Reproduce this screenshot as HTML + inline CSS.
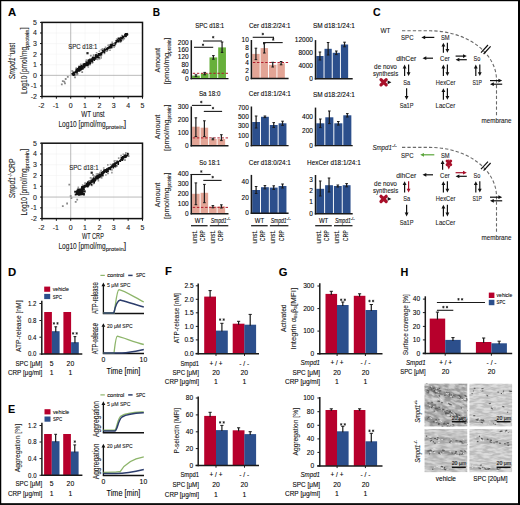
<!DOCTYPE html>
<html><head><meta charset="utf-8"><style>
html,body{margin:0;padding:0;background:#fff;width:520px;height:505px;overflow:hidden}
svg{display:block}
text{font-family:"Liberation Sans", sans-serif;stroke:#1e1e1e;stroke-width:0.1px}
</style></head><body>
<svg width="520" height="505" viewBox="0 0 520 505">
<rect x="0.00" y="0.00" width="520.00" height="505.00" fill="#fff"/>
<text x="8.00" y="15.90" font-size="11" fill="#000" font-weight="bold" textLength="8.20" lengthAdjust="spacingAndGlyphs">A</text>
<line x1="56.36" y1="22.40" x2="56.36" y2="96.50" stroke="#f0f0f0" stroke-width="0.5"/>
<line x1="42.00" y1="85.91" x2="142.50" y2="85.91" stroke="#f0f0f0" stroke-width="0.5"/>
<line x1="85.07" y1="22.40" x2="85.07" y2="96.50" stroke="#f0f0f0" stroke-width="0.5"/>
<line x1="42.00" y1="64.74" x2="142.50" y2="64.74" stroke="#f0f0f0" stroke-width="0.5"/>
<line x1="99.43" y1="22.40" x2="99.43" y2="96.50" stroke="#f0f0f0" stroke-width="0.5"/>
<line x1="42.00" y1="54.16" x2="142.50" y2="54.16" stroke="#f0f0f0" stroke-width="0.5"/>
<line x1="113.79" y1="22.40" x2="113.79" y2="96.50" stroke="#f0f0f0" stroke-width="0.5"/>
<line x1="42.00" y1="43.57" x2="142.50" y2="43.57" stroke="#f0f0f0" stroke-width="0.5"/>
<line x1="128.14" y1="22.40" x2="128.14" y2="96.50" stroke="#f0f0f0" stroke-width="0.5"/>
<line x1="42.00" y1="32.99" x2="142.50" y2="32.99" stroke="#f0f0f0" stroke-width="0.5"/>
<line x1="70.71" y1="22.40" x2="70.71" y2="96.50" stroke="#a8a8a8" stroke-width="0.8"/>
<line x1="42.00" y1="75.33" x2="142.50" y2="75.33" stroke="#a8a8a8" stroke-width="0.8"/>
<rect x="42.00" y="22.40" width="100.50" height="74.10" fill="none" stroke="#111" stroke-width="1.5"/>
<line x1="40.00" y1="96.50" x2="42.00" y2="96.50" stroke="#111" stroke-width="1.0"/>
<line x1="42.00" y1="96.50" x2="42.00" y2="98.70" stroke="#111" stroke-width="1.0"/>
<text x="37.00" y="99.00" font-size="7.0" text-anchor="end" fill="#222">-2</text>
<text x="41.40" y="108.30" font-size="7.0" text-anchor="middle" fill="#222">-2</text>
<line x1="40.00" y1="85.91" x2="42.00" y2="85.91" stroke="#111" stroke-width="1.0"/>
<line x1="56.36" y1="96.50" x2="56.36" y2="98.70" stroke="#111" stroke-width="1.0"/>
<text x="37.00" y="88.41" font-size="7.0" text-anchor="end" fill="#222">-1</text>
<text x="55.76" y="108.30" font-size="7.0" text-anchor="middle" fill="#222">-1</text>
<line x1="40.00" y1="75.33" x2="42.00" y2="75.33" stroke="#111" stroke-width="1.0"/>
<line x1="70.71" y1="96.50" x2="70.71" y2="98.70" stroke="#111" stroke-width="1.0"/>
<text x="37.00" y="77.83" font-size="7.0" text-anchor="end" fill="#222">0</text>
<text x="70.71" y="108.30" font-size="7.0" text-anchor="middle" fill="#222">0</text>
<line x1="40.00" y1="64.74" x2="42.00" y2="64.74" stroke="#111" stroke-width="1.0"/>
<line x1="85.07" y1="96.50" x2="85.07" y2="98.70" stroke="#111" stroke-width="1.0"/>
<text x="37.00" y="67.24" font-size="7.0" text-anchor="end" fill="#222">1</text>
<text x="85.07" y="108.30" font-size="7.0" text-anchor="middle" fill="#222">1</text>
<line x1="40.00" y1="54.16" x2="42.00" y2="54.16" stroke="#111" stroke-width="1.0"/>
<line x1="99.43" y1="96.50" x2="99.43" y2="98.70" stroke="#111" stroke-width="1.0"/>
<text x="37.00" y="56.66" font-size="7.0" text-anchor="end" fill="#222">2</text>
<text x="99.43" y="108.30" font-size="7.0" text-anchor="middle" fill="#222">2</text>
<line x1="40.00" y1="43.57" x2="42.00" y2="43.57" stroke="#111" stroke-width="1.0"/>
<line x1="113.79" y1="96.50" x2="113.79" y2="98.70" stroke="#111" stroke-width="1.0"/>
<text x="37.00" y="46.07" font-size="7.0" text-anchor="end" fill="#222">3</text>
<text x="113.79" y="108.30" font-size="7.0" text-anchor="middle" fill="#222">3</text>
<line x1="40.00" y1="32.99" x2="42.00" y2="32.99" stroke="#111" stroke-width="1.0"/>
<line x1="128.14" y1="96.50" x2="128.14" y2="98.70" stroke="#111" stroke-width="1.0"/>
<text x="37.00" y="35.49" font-size="7.0" text-anchor="end" fill="#222">4</text>
<text x="128.14" y="108.30" font-size="7.0" text-anchor="middle" fill="#222">4</text>
<line x1="40.00" y1="22.40" x2="42.00" y2="22.40" stroke="#111" stroke-width="1.0"/>
<line x1="142.50" y1="96.50" x2="142.50" y2="98.70" stroke="#111" stroke-width="1.0"/>
<text x="37.00" y="24.90" font-size="7.0" text-anchor="end" fill="#222">5</text>
<text x="142.50" y="108.30" font-size="7.0" text-anchor="middle" fill="#222">5</text>
<path d="M72.5,75.3L74.5,74.1L76.4,72.9L78.4,71.7L80.3,70.3L82.3,69.1L84.0,67.5L86.0,66.3L88.0,65.0L89.7,63.5L91.6,62.2L93.2,60.5L95.2,59.2L97.0,57.8L98.9,56.5L100.8,55.1L102.5,53.4L104.4,52.1L106.2,50.7L108.3,49.6L110.1,48.1L111.7,46.5L113.8,45.3L115.4,43.7L117.4,42.5L119.1,40.9L120.9,39.4L123.0,38.4L124.7,36.7L126.5,35.3L128.6,34.2L127.5,32.7L125.8,34.3L123.9,35.7L121.8,36.8L120.2,38.5L118.3,39.8L116.3,40.9L114.5,42.5L112.4,43.6L110.7,45.2L108.7,46.3L106.7,47.6L105.0,49.2L103.2,50.5L101.4,52.0L99.3,53.1L97.4,54.4L95.6,55.9L93.7,57.2L91.9,58.7L89.8,59.7L88.0,61.2L86.0,62.4L84.2,63.9L82.5,65.4L80.4,66.6L78.7,68.1L76.9,69.5L75.1,71.1L73.3,72.6L71.6,74.1Z" fill="#111"/>
<path d="M78.0,65.6h1.6v1.6h-1.6zM104.7,46.4h1.6v1.6h-1.6zM103.6,52.7h1.6v1.6h-1.6zM101.6,48.1h1.6v1.6h-1.6zM111.4,41.4h1.6v1.6h-1.6zM110.8,47.3h1.6v1.6h-1.6zM100.2,55.8h1.6v1.6h-1.6zM89.3,63.9h1.6v1.6h-1.6zM121.1,34.8h1.6v1.6h-1.6zM87.5,66.2h1.6v1.6h-1.6zM98.6,50.4h1.6v1.6h-1.6zM98.8,58.2h1.6v1.6h-1.6zM79.7,64.4h1.6v1.6h-1.6zM107.3,44.5h1.6v1.6h-1.6zM120.7,39.9h1.6v1.6h-1.6zM100.4,57.2h1.6v1.6h-1.6zM75.5,67.2h1.6v1.6h-1.6zM120.0,40.6h1.6v1.6h-1.6zM108.2,44.2h1.6v1.6h-1.6zM123.5,38.0h1.6v1.6h-1.6zM115.9,38.3h1.6v1.6h-1.6zM119.6,41.5h1.6v1.6h-1.6zM91.4,62.2h1.6v1.6h-1.6zM113.3,46.3h1.6v1.6h-1.6zM109.2,49.4h1.6v1.6h-1.6zM72.1,70.8h1.6v1.6h-1.6zM114.0,45.1h1.6v1.6h-1.6zM80.2,64.2h1.6v1.6h-1.6zM74.8,74.1h1.6v1.6h-1.6zM96.9,58.6h1.6v1.6h-1.6zM122.4,39.0h1.6v1.6h-1.6zM80.0,63.4h1.6v1.6h-1.6zM76.8,73.1h1.6v1.6h-1.6zM100.5,48.9h1.6v1.6h-1.6zM85.3,60.5h1.6v1.6h-1.6zM71.3,70.1h1.6v1.6h-1.6zM92.0,61.7h1.6v1.6h-1.6zM73.7,74.7h1.6v1.6h-1.6zM95.8,51.9h1.6v1.6h-1.6zM85.6,59.3h1.6v1.6h-1.6z" fill="#999"/>
<path d="M119.9,39.0h1.6v1.6h-1.6zM119.1,37.5h1.6v1.6h-1.6zM78.6,66.0h1.6v1.6h-1.6zM86.9,64.1h1.6v1.6h-1.6zM91.9,57.4h1.6v1.6h-1.6zM115.4,39.9h1.6v1.6h-1.6zM103.7,51.6h1.6v1.6h-1.6zM87.2,63.8h1.6v1.6h-1.6zM80.6,68.4h1.6v1.6h-1.6zM125.3,33.2h1.6v1.6h-1.6zM124.5,35.5h1.6v1.6h-1.6zM114.8,42.8h1.6v1.6h-1.6zM89.3,58.4h1.6v1.6h-1.6zM103.9,48.5h1.6v1.6h-1.6zM75.5,68.5h1.6v1.6h-1.6zM89.5,62.4h1.6v1.6h-1.6zM121.1,38.0h1.6v1.6h-1.6zM112.5,44.7h1.6v1.6h-1.6zM117.6,37.5h1.6v1.6h-1.6zM82.2,67.9h1.6v1.6h-1.6zM122.7,36.9h1.6v1.6h-1.6zM76.2,72.1h1.6v1.6h-1.6zM85.5,61.4h1.6v1.6h-1.6zM87.6,63.9h1.6v1.6h-1.6zM77.9,67.1h1.6v1.6h-1.6zM122.0,35.4h1.6v1.6h-1.6zM83.6,66.6h1.6v1.6h-1.6zM92.0,56.8h1.6v1.6h-1.6zM125.5,33.0h1.6v1.6h-1.6zM80.2,65.4h1.6v1.6h-1.6zM105.7,50.1h1.6v1.6h-1.6zM78.9,69.8h1.6v1.6h-1.6zM86.9,64.5h1.6v1.6h-1.6zM80.0,69.1h1.6v1.6h-1.6zM125.4,35.2h1.6v1.6h-1.6zM91.2,57.8h1.6v1.6h-1.6zM75.6,69.2h1.6v1.6h-1.6zM87.4,60.2h1.6v1.6h-1.6zM97.9,56.4h1.6v1.6h-1.6zM88.4,59.5h1.6v1.6h-1.6zM113.4,44.5h1.6v1.6h-1.6zM117.7,40.8h1.6v1.6h-1.6zM113.9,43.9h1.6v1.6h-1.6zM79.0,66.8h1.6v1.6h-1.6zM96.6,56.7h1.6v1.6h-1.6zM86.4,64.6h1.6v1.6h-1.6zM89.5,61.9h1.6v1.6h-1.6zM87.7,59.3h1.6v1.6h-1.6zM120.3,39.9h1.6v1.6h-1.6zM97.7,53.0h1.6v1.6h-1.6zM81.6,68.2h1.6v1.6h-1.6zM109.2,47.2h1.6v1.6h-1.6zM80.0,68.9h1.6v1.6h-1.6zM119.8,39.6h1.6v1.6h-1.6zM109.7,44.3h1.6v1.6h-1.6zM103.7,48.2h1.6v1.6h-1.6zM81.0,65.1h1.6v1.6h-1.6zM95.1,55.0h1.6v1.6h-1.6zM77.9,66.7h1.6v1.6h-1.6zM95.3,54.0h1.6v1.6h-1.6zM93.4,59.4h1.6v1.6h-1.6zM101.8,49.7h1.6v1.6h-1.6zM110.9,46.3h1.6v1.6h-1.6zM85.7,64.7h1.6v1.6h-1.6zM119.8,39.7h1.6v1.6h-1.6zM87.0,63.9h1.6v1.6h-1.6zM100.7,53.8h1.6v1.6h-1.6zM88.3,59.9h1.6v1.6h-1.6zM93.5,59.1h1.6v1.6h-1.6zM91.4,60.5h1.6v1.6h-1.6zM124.1,33.8h1.6v1.6h-1.6zM120.2,36.7h1.6v1.6h-1.6zM91.6,60.9h1.6v1.6h-1.6zM78.4,70.1h1.6v1.6h-1.6zM92.4,56.4h1.6v1.6h-1.6zM110.1,46.3h1.6v1.6h-1.6zM124.3,33.7h1.6v1.6h-1.6zM126.5,34.1h1.6v1.6h-1.6zM82.5,63.5h1.6v1.6h-1.6zM98.2,56.8h1.6v1.6h-1.6zM77.0,67.9h1.6v1.6h-1.6zM95.0,58.2h1.6v1.6h-1.6zM72.5,72.2h1.6v1.6h-1.6zM99.8,54.1h1.6v1.6h-1.6zM83.8,66.2h1.6v1.6h-1.6zM83.5,63.0h1.6v1.6h-1.6zM110.9,45.9h1.6v1.6h-1.6zM95.0,54.4h1.6v1.6h-1.6zM71.4,72.9h1.6v1.6h-1.6zM89.1,62.8h1.6v1.6h-1.6zM110.2,43.7h1.6v1.6h-1.6zM111.2,43.4h1.6v1.6h-1.6zM73.5,73.9h1.6v1.6h-1.6zM75.4,69.5h1.6v1.6h-1.6zM72.5,74.5h1.6v1.6h-1.6zM124.9,35.6h1.6v1.6h-1.6zM119.4,40.1h1.6v1.6h-1.6zM110.8,45.9h1.6v1.6h-1.6zM94.8,55.3h1.6v1.6h-1.6zM114.2,43.2h1.6v1.6h-1.6zM106.6,49.2h1.6v1.6h-1.6zM96.8,56.5h1.6v1.6h-1.6zM124.9,33.0h1.6v1.6h-1.6zM72.7,71.7h1.6v1.6h-1.6zM83.6,63.2h1.6v1.6h-1.6zM73.0,74.2h1.6v1.6h-1.6zM126.3,34.1h1.6v1.6h-1.6zM117.1,39.1h1.6v1.6h-1.6zM103.5,49.0h1.6v1.6h-1.6zM86.5,64.4h1.6v1.6h-1.6z" fill="#111"/>
<path d="M60.9,83.4h1.8v1.8h-1.8zM63.4,80.8h1.8v1.8h-1.8zM61.9,80.3h1.8v1.8h-1.8zM64.8,78.1h1.8v1.8h-1.8zM66.9,76.0h1.8v1.8h-1.8zM64.1,82.4h1.8v1.8h-1.8zM74.1,76.5h1.8v1.8h-1.8zM76.3,73.4h1.8v1.8h-1.8zM81.3,71.3h1.8v1.8h-1.8zM89.9,54.8h1.8v1.8h-1.8zM92.8,54.3h1.8v1.8h-1.8zM105.7,50.1h1.8v1.8h-1.8zM112.9,43.2h1.8v1.8h-1.8z" fill="#8a8a8a"/>
<rect x="86.4" y="52.1" width="2.2" height="2.2" fill="#222"/>
<text x="68.20" y="49.20" font-size="6.6" fill="#222" textLength="29.20" lengthAdjust="spacingAndGlyphs">SPC d18:1</text>
<g transform="translate(15.20,79.30) rotate(-90)">
<text x="0.00" y="0.00" font-size="8.6" fill="#222" font-style="italic" textLength="22.00" lengthAdjust="spacingAndGlyphs">Smpd1</text>
<text x="22.00" y="-3.40" font-size="4.6" fill="#222" textLength="3.40" lengthAdjust="spacingAndGlyphs">-/-</text>
<text x="25.40" y="0.00" font-size="8.6" fill="#222" textLength="11.00" lengthAdjust="spacingAndGlyphs"> unst</text>
</g>
<g transform="translate(26.90,93.95) rotate(-90)">
<text x="0.00" y="0.00" font-size="8.6" fill="#222" textLength="47.00" lengthAdjust="spacingAndGlyphs">Log10 [pmol/mg</text>
<text x="47.00" y="1.90" font-size="5.0" fill="#222" textLength="17.50" lengthAdjust="spacingAndGlyphs">protein</text>
<text x="64.50" y="0.00" font-size="8.6" fill="#222" textLength="2.40" lengthAdjust="spacingAndGlyphs">]</text>
</g>
<text x="92.90" y="117.10" font-size="8.6" text-anchor="middle" fill="#222" textLength="23.40" lengthAdjust="spacingAndGlyphs">WT unst</text>
<text x="58.40" y="127.30" font-size="8.6" fill="#222" textLength="47.40" lengthAdjust="spacingAndGlyphs">Log10 [pmol/mg</text>
<text x="105.80" y="129.20" font-size="5.0" fill="#222" textLength="18.00" lengthAdjust="spacingAndGlyphs">protein</text>
<text x="123.80" y="127.30" font-size="8.6" fill="#222" textLength="2.40" lengthAdjust="spacingAndGlyphs">]</text>
<line x1="56.36" y1="143.20" x2="56.36" y2="218.60" stroke="#f0f0f0" stroke-width="0.5"/>
<line x1="42.00" y1="207.83" x2="142.50" y2="207.83" stroke="#f0f0f0" stroke-width="0.5"/>
<line x1="85.07" y1="143.20" x2="85.07" y2="218.60" stroke="#f0f0f0" stroke-width="0.5"/>
<line x1="42.00" y1="186.29" x2="142.50" y2="186.29" stroke="#f0f0f0" stroke-width="0.5"/>
<line x1="99.43" y1="143.20" x2="99.43" y2="218.60" stroke="#f0f0f0" stroke-width="0.5"/>
<line x1="42.00" y1="175.51" x2="142.50" y2="175.51" stroke="#f0f0f0" stroke-width="0.5"/>
<line x1="113.79" y1="143.20" x2="113.79" y2="218.60" stroke="#f0f0f0" stroke-width="0.5"/>
<line x1="42.00" y1="164.74" x2="142.50" y2="164.74" stroke="#f0f0f0" stroke-width="0.5"/>
<line x1="128.14" y1="143.20" x2="128.14" y2="218.60" stroke="#f0f0f0" stroke-width="0.5"/>
<line x1="42.00" y1="153.97" x2="142.50" y2="153.97" stroke="#f0f0f0" stroke-width="0.5"/>
<line x1="70.71" y1="143.20" x2="70.71" y2="218.60" stroke="#a8a8a8" stroke-width="0.8"/>
<line x1="42.00" y1="197.06" x2="142.50" y2="197.06" stroke="#a8a8a8" stroke-width="0.8"/>
<rect x="42.00" y="143.20" width="100.50" height="75.40" fill="none" stroke="#111" stroke-width="1.5"/>
<line x1="40.00" y1="218.60" x2="42.00" y2="218.60" stroke="#111" stroke-width="1.0"/>
<line x1="42.00" y1="218.60" x2="42.00" y2="220.80" stroke="#111" stroke-width="1.0"/>
<text x="37.00" y="221.10" font-size="7.0" text-anchor="end" fill="#222">-2</text>
<text x="41.40" y="230.40" font-size="7.0" text-anchor="middle" fill="#222">-2</text>
<line x1="40.00" y1="207.83" x2="42.00" y2="207.83" stroke="#111" stroke-width="1.0"/>
<line x1="56.36" y1="218.60" x2="56.36" y2="220.80" stroke="#111" stroke-width="1.0"/>
<text x="37.00" y="210.33" font-size="7.0" text-anchor="end" fill="#222">-1</text>
<text x="55.76" y="230.40" font-size="7.0" text-anchor="middle" fill="#222">-1</text>
<line x1="40.00" y1="197.06" x2="42.00" y2="197.06" stroke="#111" stroke-width="1.0"/>
<line x1="70.71" y1="218.60" x2="70.71" y2="220.80" stroke="#111" stroke-width="1.0"/>
<text x="37.00" y="199.56" font-size="7.0" text-anchor="end" fill="#222">0</text>
<text x="70.71" y="230.40" font-size="7.0" text-anchor="middle" fill="#222">0</text>
<line x1="40.00" y1="186.29" x2="42.00" y2="186.29" stroke="#111" stroke-width="1.0"/>
<line x1="85.07" y1="218.60" x2="85.07" y2="220.80" stroke="#111" stroke-width="1.0"/>
<text x="37.00" y="188.79" font-size="7.0" text-anchor="end" fill="#222">1</text>
<text x="85.07" y="230.40" font-size="7.0" text-anchor="middle" fill="#222">1</text>
<line x1="40.00" y1="175.51" x2="42.00" y2="175.51" stroke="#111" stroke-width="1.0"/>
<line x1="99.43" y1="218.60" x2="99.43" y2="220.80" stroke="#111" stroke-width="1.0"/>
<text x="37.00" y="178.01" font-size="7.0" text-anchor="end" fill="#222">2</text>
<text x="99.43" y="230.40" font-size="7.0" text-anchor="middle" fill="#222">2</text>
<line x1="40.00" y1="164.74" x2="42.00" y2="164.74" stroke="#111" stroke-width="1.0"/>
<line x1="113.79" y1="218.60" x2="113.79" y2="220.80" stroke="#111" stroke-width="1.0"/>
<text x="37.00" y="167.24" font-size="7.0" text-anchor="end" fill="#222">3</text>
<text x="113.79" y="230.40" font-size="7.0" text-anchor="middle" fill="#222">3</text>
<line x1="40.00" y1="153.97" x2="42.00" y2="153.97" stroke="#111" stroke-width="1.0"/>
<line x1="128.14" y1="218.60" x2="128.14" y2="220.80" stroke="#111" stroke-width="1.0"/>
<text x="37.00" y="156.47" font-size="7.0" text-anchor="end" fill="#222">4</text>
<text x="128.14" y="230.40" font-size="7.0" text-anchor="middle" fill="#222">4</text>
<line x1="40.00" y1="143.20" x2="42.00" y2="143.20" stroke="#111" stroke-width="1.0"/>
<line x1="142.50" y1="218.60" x2="142.50" y2="220.80" stroke="#111" stroke-width="1.0"/>
<text x="37.00" y="145.70" font-size="7.0" text-anchor="end" fill="#222">5</text>
<text x="142.50" y="230.40" font-size="7.0" text-anchor="middle" fill="#222">5</text>
<path d="M77.8,193.0L79.5,191.8L81.3,190.5L83.3,189.6L84.8,188.1L86.8,187.1L88.7,186.1L90.2,184.4L92.0,183.3L93.7,182.0L95.3,180.4L97.1,179.2L98.9,178.1L100.5,176.6L102.3,175.4L103.8,173.9L105.5,172.6L107.2,171.2L109.0,170.1L110.9,168.9L112.5,167.5L114.2,166.2L115.8,164.7L117.6,163.6L119.1,162.0L120.9,160.7L122.7,159.6L124.4,158.3L126.0,156.8L127.6,155.4L129.4,154.1L128.7,153.2L127.0,154.5L125.2,155.7L123.3,156.8L121.6,158.1L120.0,159.5L118.3,160.9L116.3,161.9L114.7,163.3L112.9,164.4L111.2,165.7L109.3,166.9L107.7,168.3L106.1,169.7L104.3,170.9L102.6,172.2L100.7,173.3L99.0,174.7L97.2,175.8L95.5,177.2L93.9,178.6L92.0,179.7L90.3,180.9L88.7,182.4L86.7,183.3L85.1,184.9L83.7,186.5L81.8,187.5L80.3,189.2L78.6,190.5L76.9,191.9Z" fill="#111"/>
<path d="M105.1,174.2h1.6v1.6h-1.6zM80.3,191.3h1.6v1.6h-1.6zM100.3,169.8h1.6v1.6h-1.6zM124.1,159.5h1.6v1.6h-1.6zM107.0,164.1h1.6v1.6h-1.6zM125.0,152.4h1.6v1.6h-1.6zM124.3,159.4h1.6v1.6h-1.6zM125.1,152.0h1.6v1.6h-1.6zM114.2,159.9h1.6v1.6h-1.6zM109.7,163.7h1.6v1.6h-1.6zM76.7,188.8h1.6v1.6h-1.6zM114.7,166.3h1.6v1.6h-1.6zM89.7,177.1h1.6v1.6h-1.6zM91.1,184.6h1.6v1.6h-1.6zM125.0,152.4h1.6v1.6h-1.6zM120.3,154.8h1.6v1.6h-1.6zM111.2,169.2h1.6v1.6h-1.6zM122.5,153.5h1.6v1.6h-1.6zM117.9,157.3h1.6v1.6h-1.6zM92.9,182.7h1.6v1.6h-1.6zM113.5,160.3h1.6v1.6h-1.6zM91.6,183.5h1.6v1.6h-1.6zM111.1,171.8h1.6v1.6h-1.6zM116.3,165.1h1.6v1.6h-1.6zM91.2,177.6h1.6v1.6h-1.6zM99.1,171.7h1.6v1.6h-1.6zM91.2,183.8h1.6v1.6h-1.6zM111.0,169.0h1.6v1.6h-1.6zM97.6,179.8h1.6v1.6h-1.6zM102.9,167.2h1.6v1.6h-1.6zM81.8,184.3h1.6v1.6h-1.6zM91.5,183.8h1.6v1.6h-1.6zM93.2,175.3h1.6v1.6h-1.6zM96.9,172.9h1.6v1.6h-1.6zM77.5,186.6h1.6v1.6h-1.6zM93.9,175.6h1.6v1.6h-1.6zM124.1,158.4h1.6v1.6h-1.6zM95.7,173.2h1.6v1.6h-1.6zM128.0,155.3h1.6v1.6h-1.6zM100.9,177.1h1.6v1.6h-1.6z" fill="#999"/>
<path d="M86.6,185.7h1.6v1.6h-1.6zM111.4,164.4h1.6v1.6h-1.6zM120.6,156.9h1.6v1.6h-1.6zM81.6,186.1h1.6v1.6h-1.6zM96.1,175.7h1.6v1.6h-1.6zM114.5,162.2h1.6v1.6h-1.6zM121.7,156.4h1.6v1.6h-1.6zM81.1,186.0h1.6v1.6h-1.6zM101.5,174.5h1.6v1.6h-1.6zM78.8,189.0h1.6v1.6h-1.6zM107.6,167.2h1.6v1.6h-1.6zM124.3,154.8h1.6v1.6h-1.6zM78.2,189.5h1.6v1.6h-1.6zM103.7,169.2h1.6v1.6h-1.6zM82.3,188.8h1.6v1.6h-1.6zM106.0,168.3h1.6v1.6h-1.6zM112.9,163.2h1.6v1.6h-1.6zM122.1,158.5h1.6v1.6h-1.6zM98.9,176.6h1.6v1.6h-1.6zM115.1,165.0h1.6v1.6h-1.6zM117.5,162.1h1.6v1.6h-1.6zM87.1,185.2h1.6v1.6h-1.6zM90.8,179.4h1.6v1.6h-1.6zM100.8,171.8h1.6v1.6h-1.6zM78.3,192.0h1.6v1.6h-1.6zM87.0,182.3h1.6v1.6h-1.6zM95.7,175.2h1.6v1.6h-1.6zM102.0,174.3h1.6v1.6h-1.6zM83.3,188.3h1.6v1.6h-1.6zM87.1,181.3h1.6v1.6h-1.6zM124.4,154.9h1.6v1.6h-1.6zM80.9,187.0h1.6v1.6h-1.6zM76.1,190.3h1.6v1.6h-1.6zM89.2,180.4h1.6v1.6h-1.6zM126.8,154.9h1.6v1.6h-1.6zM88.2,180.8h1.6v1.6h-1.6zM114.6,164.2h1.6v1.6h-1.6zM98.8,176.4h1.6v1.6h-1.6zM104.7,169.1h1.6v1.6h-1.6zM106.6,170.6h1.6v1.6h-1.6zM92.1,178.6h1.6v1.6h-1.6zM116.3,160.6h1.6v1.6h-1.6zM82.8,185.5h1.6v1.6h-1.6zM100.0,175.6h1.6v1.6h-1.6zM80.5,190.0h1.6v1.6h-1.6zM78.6,188.9h1.6v1.6h-1.6zM105.9,171.5h1.6v1.6h-1.6zM102.0,171.2h1.6v1.6h-1.6zM121.9,158.8h1.6v1.6h-1.6zM81.8,186.4h1.6v1.6h-1.6zM112.5,166.8h1.6v1.6h-1.6zM112.3,163.4h1.6v1.6h-1.6zM94.7,179.5h1.6v1.6h-1.6zM114.1,165.5h1.6v1.6h-1.6zM120.7,157.5h1.6v1.6h-1.6zM78.8,191.0h1.6v1.6h-1.6zM95.1,176.3h1.6v1.6h-1.6zM113.9,162.6h1.6v1.6h-1.6zM79.8,190.6h1.6v1.6h-1.6zM98.5,173.4h1.6v1.6h-1.6zM93.4,181.8h1.6v1.6h-1.6zM106.1,170.7h1.6v1.6h-1.6zM126.9,152.7h1.6v1.6h-1.6zM86.0,182.7h1.6v1.6h-1.6zM84.3,184.4h1.6v1.6h-1.6zM79.0,188.7h1.6v1.6h-1.6zM93.0,177.3h1.6v1.6h-1.6zM93.1,177.7h1.6v1.6h-1.6zM87.9,184.7h1.6v1.6h-1.6zM77.8,192.3h1.6v1.6h-1.6zM124.4,154.3h1.6v1.6h-1.6zM97.0,177.8h1.6v1.6h-1.6zM100.1,175.5h1.6v1.6h-1.6zM79.4,190.7h1.6v1.6h-1.6zM81.4,186.4h1.6v1.6h-1.6zM117.4,163.4h1.6v1.6h-1.6zM124.8,156.5h1.6v1.6h-1.6zM90.5,179.7h1.6v1.6h-1.6zM97.2,178.0h1.6v1.6h-1.6zM119.5,160.3h1.6v1.6h-1.6zM96.3,175.4h1.6v1.6h-1.6zM107.4,170.2h1.6v1.6h-1.6zM96.8,175.0h1.6v1.6h-1.6zM80.9,189.6h1.6v1.6h-1.6zM102.4,171.0h1.6v1.6h-1.6zM121.8,156.4h1.6v1.6h-1.6zM93.2,181.3h1.6v1.6h-1.6zM125.3,156.0h1.6v1.6h-1.6zM86.9,186.0h1.6v1.6h-1.6zM95.7,175.6h1.6v1.6h-1.6zM121.2,159.1h1.6v1.6h-1.6zM101.9,174.9h1.6v1.6h-1.6zM113.0,165.6h1.6v1.6h-1.6zM87.3,185.2h1.6v1.6h-1.6zM77.5,189.7h1.6v1.6h-1.6zM102.1,174.4h1.6v1.6h-1.6zM109.5,168.6h1.6v1.6h-1.6zM121.4,159.3h1.6v1.6h-1.6zM94.1,180.2h1.6v1.6h-1.6zM103.1,169.4h1.6v1.6h-1.6zM103.7,169.7h1.6v1.6h-1.6zM90.5,183.8h1.6v1.6h-1.6zM122.6,156.2h1.6v1.6h-1.6zM97.3,174.5h1.6v1.6h-1.6zM83.7,185.0h1.6v1.6h-1.6zM106.9,170.6h1.6v1.6h-1.6zM123.5,155.0h1.6v1.6h-1.6zM124.9,154.3h1.6v1.6h-1.6zM98.9,176.3h1.6v1.6h-1.6zM122.0,156.1h1.6v1.6h-1.6zM78.6,190.8h2v2h-2zM81.2,189.6h2v2h-2zM78.0,190.6h2v2h-2zM78.5,193.2h2v2h-2zM82.9,193.0h2v2h-2zM74.7,193.6h2v2h-2zM79.7,193.5h2v2h-2zM79.4,189.5h2v2h-2zM78.3,191.7h2v2h-2zM76.9,192.1h2v2h-2zM83.4,190.2h2v2h-2zM83.7,190.4h2v2h-2zM78.8,191.9h2v2h-2zM78.6,191.7h2v2h-2zM80.4,192.9h2v2h-2zM79.4,193.5h2v2h-2zM77.5,192.4h2v2h-2zM79.8,191.3h2v2h-2zM80.3,190.3h2v2h-2zM78.1,190.8h2v2h-2zM78.5,188.4h2v2h-2zM79.3,193.1h2v2h-2zM77.4,190.1h2v2h-2zM78.7,189.4h2v2h-2zM77.5,193.6h2v2h-2zM78.9,189.9h2v2h-2zM76.3,190.4h2v2h-2zM77.8,191.6h2v2h-2zM75.9,193.0h2v2h-2zM78.5,191.0h2v2h-2zM76.1,191.8h2v2h-2zM77.6,191.4h2v2h-2zM76.8,189.7h2v2h-2zM74.2,190.7h2v2h-2zM78.4,191.4h2v2h-2zM78.0,193.8h2v2h-2zM82.9,193.4h2v2h-2zM77.6,189.1h2v2h-2zM78.7,191.7h2v2h-2zM80.2,190.2h2v2h-2zM76.5,192.2h2v2h-2zM78.8,190.1h2v2h-2zM78.8,190.7h2v2h-2zM81.5,191.2h2v2h-2zM77.7,193.1h2v2h-2zM79.9,190.6h2v2h-2zM77.3,188.4h2v2h-2zM80.0,191.3h2v2h-2zM79.3,189.6h2v2h-2zM78.9,191.0h2v2h-2zM76.8,192.4h2v2h-2zM79.4,190.0h2v2h-2zM79.9,191.8h2v2h-2zM80.5,188.8h2v2h-2zM77.9,191.3h2v2h-2zM79.2,188.6h2v2h-2zM78.1,193.2h2v2h-2zM78.5,192.0h2v2h-2zM78.5,190.7h2v2h-2zM82.2,193.2h2v2h-2z" fill="#111"/>
<path d="M61.9,205.3h1.8v1.8h-1.8zM66.2,202.6h1.8v1.8h-1.8zM70.5,197.2h1.8v1.8h-1.8zM69.8,195.1h1.8v1.8h-1.8zM68.4,183.8h1.8v1.8h-1.8zM74.8,201.0h1.8v1.8h-1.8zM76.3,198.8h1.8v1.8h-1.8zM88.5,180.0h1.8v1.8h-1.8zM92.1,174.1h1.8v1.8h-1.8zM107.1,172.5h1.8v1.8h-1.8zM84.2,182.2h1.8v1.8h-1.8z" fill="#8a8a8a"/>
<rect x="90.6" y="171.6" width="2.2" height="2.2" fill="#222"/>
<text x="69.30" y="170.40" font-size="6.6" fill="#222" textLength="29.20" lengthAdjust="spacingAndGlyphs">SPC d18:1</text>
<g transform="translate(15.20,198.20) rotate(-90)">
<text x="0.00" y="0.00" font-size="8.6" fill="#222" font-style="italic" textLength="21.20" lengthAdjust="spacingAndGlyphs">Smpd1</text>
<text x="21.20" y="-3.40" font-size="4.6" fill="#222" textLength="4.20" lengthAdjust="spacingAndGlyphs">-/-</text>
<text x="25.40" y="0.00" font-size="8.6" fill="#222" textLength="14.30" lengthAdjust="spacingAndGlyphs"> CRP</text>
</g>
<g transform="translate(26.90,215.40) rotate(-90)">
<text x="0.00" y="0.00" font-size="8.6" fill="#222" textLength="47.00" lengthAdjust="spacingAndGlyphs">Log10 [pmol/mg</text>
<text x="47.00" y="1.90" font-size="5.0" fill="#222" textLength="17.50" lengthAdjust="spacingAndGlyphs">protein</text>
<text x="64.50" y="0.00" font-size="8.6" fill="#222" textLength="2.40" lengthAdjust="spacingAndGlyphs">]</text>
</g>
<text x="92.90" y="239.20" font-size="8.6" text-anchor="middle" fill="#222" textLength="22.00" lengthAdjust="spacingAndGlyphs">WT CRP</text>
<text x="58.40" y="249.40" font-size="8.6" fill="#222" textLength="47.40" lengthAdjust="spacingAndGlyphs">Log10 [pmol/mg</text>
<text x="105.80" y="251.30" font-size="5.0" fill="#222" textLength="18.00" lengthAdjust="spacingAndGlyphs">protein</text>
<text x="123.80" y="249.40" font-size="8.6" fill="#222" textLength="2.40" lengthAdjust="spacingAndGlyphs">]</text>
<text x="152.70" y="16.00" font-size="11" fill="#000" font-weight="bold" textLength="7.30" lengthAdjust="spacingAndGlyphs">B</text>
<rect x="192.10" y="75.60" width="7.75" height="3.00" fill="#67b03b"/>
<rect x="200.80" y="73.50" width="7.75" height="5.10" fill="#67b03b"/>
<rect x="209.50" y="57.40" width="7.75" height="21.20" fill="#67b03b"/>
<rect x="218.20" y="47.40" width="7.75" height="31.20" fill="#67b03b"/>
<line x1="192.80" y1="73.30" x2="228.30" y2="73.30" stroke="#b01c2c" stroke-width="1.0" stroke-dasharray="2.4,1.7"/>
<line x1="195.98" y1="74.80" x2="195.98" y2="76.60" stroke="#1a1a1a" stroke-width="1.2"/>
<line x1="194.68" y1="74.80" x2="197.28" y2="74.80" stroke="#1a1a1a" stroke-width="1.0"/>
<line x1="194.68" y1="76.60" x2="197.28" y2="76.60" stroke="#1a1a1a" stroke-width="1.0"/>
<line x1="204.68" y1="72.40" x2="204.68" y2="74.80" stroke="#1a1a1a" stroke-width="1.2"/>
<line x1="203.38" y1="72.40" x2="205.98" y2="72.40" stroke="#1a1a1a" stroke-width="1.0"/>
<line x1="203.38" y1="74.80" x2="205.98" y2="74.80" stroke="#1a1a1a" stroke-width="1.0"/>
<line x1="213.38" y1="55.60" x2="213.38" y2="59.20" stroke="#1a1a1a" stroke-width="1.2"/>
<line x1="212.08" y1="55.60" x2="214.68" y2="55.60" stroke="#1a1a1a" stroke-width="1.0"/>
<line x1="212.08" y1="59.20" x2="214.68" y2="59.20" stroke="#1a1a1a" stroke-width="1.0"/>
<line x1="222.08" y1="42.00" x2="222.08" y2="52.40" stroke="#1a1a1a" stroke-width="1.2"/>
<line x1="220.78" y1="42.00" x2="223.38" y2="42.00" stroke="#1a1a1a" stroke-width="1.0"/>
<line x1="220.78" y1="52.40" x2="223.38" y2="52.40" stroke="#1a1a1a" stroke-width="1.0"/>
<line x1="191.30" y1="40.20" x2="191.30" y2="79.30" stroke="#1a1a1a" stroke-width="1.5"/>
<line x1="190.60" y1="78.60" x2="228.50" y2="78.60" stroke="#1a1a1a" stroke-width="1.4"/>
<text x="188.70" y="44.90" font-size="6.5" text-anchor="end">200</text>
<text x="188.70" y="52.10" font-size="6.5" text-anchor="end">160</text>
<text x="188.70" y="59.40" font-size="6.5" text-anchor="end">120</text>
<text x="188.70" y="66.60" font-size="6.5" text-anchor="end">80</text>
<text x="188.70" y="73.80" font-size="6.5" text-anchor="end">40</text>
<text x="188.70" y="80.90" font-size="6.5" text-anchor="end">0</text>
<text x="209.70" y="27.80" font-size="6.4" text-anchor="middle" textLength="29.00" lengthAdjust="spacingAndGlyphs">SPC d18:1</text>
<line x1="194.00" y1="47.30" x2="213.20" y2="47.30" stroke="#1a1a1a" stroke-width="1.1"/>
<path d="M203.00,43.55L203.00,46.05M204.08,44.17L201.92,45.42M204.08,45.42L201.92,44.17" stroke="#1a1a1a" stroke-width="0.75" fill="none"/>
<line x1="203.00" y1="41.00" x2="222.00" y2="41.00" stroke="#1a1a1a" stroke-width="1.1"/>
<path d="M213.20,35.95L213.20,38.45M214.28,36.58L212.12,37.83M214.28,37.83L212.12,36.58" stroke="#1a1a1a" stroke-width="0.75" fill="none"/>
<rect x="252.20" y="53.90" width="7.45" height="24.60" fill="#e3a596"/>
<rect x="260.60" y="48.10" width="7.45" height="30.40" fill="#e3a596"/>
<rect x="269.00" y="64.80" width="7.45" height="13.70" fill="#e3a596"/>
<rect x="277.40" y="63.30" width="7.45" height="15.20" fill="#e3a596"/>
<line x1="252.90" y1="62.50" x2="288.40" y2="62.50" stroke="#b01c2c" stroke-width="1.0" stroke-dasharray="2.4,1.7"/>
<line x1="255.93" y1="48.20" x2="255.93" y2="59.60" stroke="#1a1a1a" stroke-width="1.2"/>
<line x1="254.62" y1="48.20" x2="257.23" y2="48.20" stroke="#1a1a1a" stroke-width="1.0"/>
<line x1="254.62" y1="59.60" x2="257.23" y2="59.60" stroke="#1a1a1a" stroke-width="1.0"/>
<line x1="264.33" y1="43.00" x2="264.33" y2="53.00" stroke="#1a1a1a" stroke-width="1.2"/>
<line x1="263.03" y1="43.00" x2="265.63" y2="43.00" stroke="#1a1a1a" stroke-width="1.0"/>
<line x1="263.03" y1="53.00" x2="265.63" y2="53.00" stroke="#1a1a1a" stroke-width="1.0"/>
<line x1="272.73" y1="62.30" x2="272.73" y2="67.00" stroke="#1a1a1a" stroke-width="1.2"/>
<line x1="271.43" y1="62.30" x2="274.03" y2="62.30" stroke="#1a1a1a" stroke-width="1.0"/>
<line x1="271.43" y1="67.00" x2="274.03" y2="67.00" stroke="#1a1a1a" stroke-width="1.0"/>
<line x1="281.13" y1="61.50" x2="281.13" y2="64.80" stroke="#1a1a1a" stroke-width="1.2"/>
<line x1="279.83" y1="61.50" x2="282.43" y2="61.50" stroke="#1a1a1a" stroke-width="1.0"/>
<line x1="279.83" y1="64.80" x2="282.43" y2="64.80" stroke="#1a1a1a" stroke-width="1.0"/>
<line x1="251.40" y1="40.00" x2="251.40" y2="79.20" stroke="#1a1a1a" stroke-width="1.5"/>
<line x1="250.70" y1="78.50" x2="288.60" y2="78.50" stroke="#1a1a1a" stroke-width="1.4"/>
<text x="248.80" y="42.10" font-size="6.5" text-anchor="end">10</text>
<text x="248.80" y="49.90" font-size="6.5" text-anchor="end">8</text>
<text x="248.80" y="57.60" font-size="6.5" text-anchor="end">6</text>
<text x="248.80" y="65.20" font-size="6.5" text-anchor="end">4</text>
<text x="248.80" y="72.90" font-size="6.5" text-anchor="end">2</text>
<text x="248.80" y="80.60" font-size="6.5" text-anchor="end">0</text>
<text x="269.80" y="27.60" font-size="6.4" text-anchor="middle" textLength="41.50" lengthAdjust="spacingAndGlyphs">Cer d18:2/24:1</text>
<line x1="252.70" y1="37.30" x2="273.50" y2="37.30" stroke="#1a1a1a" stroke-width="1.1"/>
<line x1="273.50" y1="36.80" x2="273.50" y2="39.10" stroke="#1a1a1a" stroke-width="1.0"/>
<path d="M262.80,32.75L262.80,35.25M263.88,33.38L261.72,34.62M263.88,34.62L261.72,33.38" stroke="#1a1a1a" stroke-width="0.75" fill="none"/>
<line x1="263.60" y1="42.60" x2="282.70" y2="42.60" stroke="#1a1a1a" stroke-width="1.1"/>
<line x1="263.60" y1="42.10" x2="263.60" y2="44.40" stroke="#1a1a1a" stroke-width="1.0"/>
<path d="M273.20,38.25L273.20,40.75M274.28,38.88L272.12,40.12M274.28,40.12L272.12,38.88" stroke="#1a1a1a" stroke-width="0.75" fill="none"/>
<rect x="316.30" y="56.00" width="7.25" height="22.80" fill="#2c4f8c"/>
<rect x="324.50" y="48.80" width="7.25" height="30.00" fill="#2c4f8c"/>
<rect x="332.70" y="52.80" width="7.25" height="26.00" fill="#2c4f8c"/>
<rect x="340.90" y="44.50" width="7.25" height="34.30" fill="#2c4f8c"/>
<line x1="319.93" y1="52.00" x2="319.93" y2="60.00" stroke="#1a1a1a" stroke-width="1.2"/>
<line x1="318.62" y1="52.00" x2="321.23" y2="52.00" stroke="#1a1a1a" stroke-width="1.0"/>
<line x1="318.62" y1="60.00" x2="321.23" y2="60.00" stroke="#1a1a1a" stroke-width="1.0"/>
<line x1="328.12" y1="42.50" x2="328.12" y2="55.00" stroke="#1a1a1a" stroke-width="1.2"/>
<line x1="326.82" y1="42.50" x2="329.43" y2="42.50" stroke="#1a1a1a" stroke-width="1.0"/>
<line x1="326.82" y1="55.00" x2="329.43" y2="55.00" stroke="#1a1a1a" stroke-width="1.0"/>
<line x1="336.32" y1="51.00" x2="336.32" y2="54.60" stroke="#1a1a1a" stroke-width="1.2"/>
<line x1="335.02" y1="51.00" x2="337.62" y2="51.00" stroke="#1a1a1a" stroke-width="1.0"/>
<line x1="335.02" y1="54.60" x2="337.62" y2="54.60" stroke="#1a1a1a" stroke-width="1.0"/>
<line x1="344.53" y1="42.20" x2="344.53" y2="46.80" stroke="#1a1a1a" stroke-width="1.2"/>
<line x1="343.23" y1="42.20" x2="345.83" y2="42.20" stroke="#1a1a1a" stroke-width="1.0"/>
<line x1="343.23" y1="46.80" x2="345.83" y2="46.80" stroke="#1a1a1a" stroke-width="1.0"/>
<line x1="315.50" y1="40.10" x2="315.50" y2="79.50" stroke="#1a1a1a" stroke-width="1.5"/>
<line x1="314.80" y1="78.80" x2="352.70" y2="78.80" stroke="#1a1a1a" stroke-width="1.4"/>
<text x="312.90" y="42.00" font-size="6.5" text-anchor="end">12000</text>
<text x="312.90" y="54.90" font-size="6.5" text-anchor="end">8000</text>
<text x="312.90" y="67.80" font-size="6.5" text-anchor="end">4000</text>
<text x="312.90" y="80.70" font-size="6.5" text-anchor="end">0</text>
<text x="333.90" y="27.70" font-size="6.4" text-anchor="middle" textLength="42.00" lengthAdjust="spacingAndGlyphs">SM d18:1/24:1</text>
<rect x="192.10" y="126.70" width="7.55" height="19.10" fill="#e3a596"/>
<rect x="200.60" y="127.70" width="7.55" height="18.10" fill="#e3a596"/>
<rect x="209.10" y="139.00" width="7.55" height="6.80" fill="#e3a596"/>
<rect x="217.60" y="139.00" width="7.55" height="6.80" fill="#e3a596"/>
<line x1="192.80" y1="137.90" x2="228.30" y2="137.90" stroke="#b01c2c" stroke-width="1.0" stroke-dasharray="2.4,1.7"/>
<line x1="195.88" y1="117.80" x2="195.88" y2="136.60" stroke="#1a1a1a" stroke-width="1.2"/>
<line x1="194.58" y1="117.80" x2="197.18" y2="117.80" stroke="#1a1a1a" stroke-width="1.0"/>
<line x1="194.58" y1="136.60" x2="197.18" y2="136.60" stroke="#1a1a1a" stroke-width="1.0"/>
<line x1="204.38" y1="120.80" x2="204.38" y2="136.60" stroke="#1a1a1a" stroke-width="1.2"/>
<line x1="203.08" y1="120.80" x2="205.68" y2="120.80" stroke="#1a1a1a" stroke-width="1.0"/>
<line x1="203.08" y1="136.60" x2="205.68" y2="136.60" stroke="#1a1a1a" stroke-width="1.0"/>
<line x1="212.88" y1="138.20" x2="212.88" y2="139.80" stroke="#1a1a1a" stroke-width="1.2"/>
<line x1="211.58" y1="138.20" x2="214.18" y2="138.20" stroke="#1a1a1a" stroke-width="1.0"/>
<line x1="211.58" y1="139.80" x2="214.18" y2="139.80" stroke="#1a1a1a" stroke-width="1.0"/>
<line x1="221.38" y1="134.70" x2="221.38" y2="140.60" stroke="#1a1a1a" stroke-width="1.2"/>
<line x1="220.08" y1="134.70" x2="222.68" y2="134.70" stroke="#1a1a1a" stroke-width="1.0"/>
<line x1="220.08" y1="140.60" x2="222.68" y2="140.60" stroke="#1a1a1a" stroke-width="1.0"/>
<line x1="191.30" y1="106.50" x2="191.30" y2="146.50" stroke="#1a1a1a" stroke-width="1.5"/>
<line x1="190.60" y1="145.80" x2="228.50" y2="145.80" stroke="#1a1a1a" stroke-width="1.4"/>
<text x="188.70" y="108.90" font-size="6.5" text-anchor="end">300</text>
<text x="188.70" y="122.00" font-size="6.5" text-anchor="end">200</text>
<text x="188.70" y="135.00" font-size="6.5" text-anchor="end">100</text>
<text x="188.70" y="148.10" font-size="6.5" text-anchor="end">0</text>
<text x="209.70" y="96.10" font-size="6.4" text-anchor="middle" textLength="21.60" lengthAdjust="spacingAndGlyphs">Sa 18:0</text>
<line x1="191.90" y1="105.40" x2="211.20" y2="105.40" stroke="#1a1a1a" stroke-width="1.1"/>
<path d="M201.30,100.75L201.30,103.25M202.38,101.38L200.22,102.62M202.38,102.62L200.22,101.38" stroke="#1a1a1a" stroke-width="0.75" fill="none"/>
<line x1="203.80" y1="111.40" x2="222.10" y2="111.40" stroke="#1a1a1a" stroke-width="1.1"/>
<path d="M213.00,106.85L213.00,109.35M214.08,107.47L211.92,108.72M214.08,108.72L211.92,107.47" stroke="#1a1a1a" stroke-width="0.75" fill="none"/>
<rect x="252.20" y="122.00" width="7.85" height="23.60" fill="#2c4f8c"/>
<rect x="261.00" y="116.80" width="7.85" height="28.80" fill="#2c4f8c"/>
<rect x="269.80" y="125.00" width="7.85" height="20.60" fill="#2c4f8c"/>
<rect x="278.60" y="123.30" width="7.85" height="22.30" fill="#2c4f8c"/>
<line x1="256.12" y1="116.00" x2="256.12" y2="128.00" stroke="#1a1a1a" stroke-width="1.2"/>
<line x1="254.82" y1="116.00" x2="257.43" y2="116.00" stroke="#1a1a1a" stroke-width="1.0"/>
<line x1="254.82" y1="128.00" x2="257.43" y2="128.00" stroke="#1a1a1a" stroke-width="1.0"/>
<line x1="264.93" y1="116.00" x2="264.93" y2="117.60" stroke="#1a1a1a" stroke-width="1.2"/>
<line x1="263.62" y1="116.00" x2="266.23" y2="116.00" stroke="#1a1a1a" stroke-width="1.0"/>
<line x1="263.62" y1="117.60" x2="266.23" y2="117.60" stroke="#1a1a1a" stroke-width="1.0"/>
<line x1="273.73" y1="122.60" x2="273.73" y2="127.40" stroke="#1a1a1a" stroke-width="1.2"/>
<line x1="272.43" y1="122.60" x2="275.03" y2="122.60" stroke="#1a1a1a" stroke-width="1.0"/>
<line x1="272.43" y1="127.40" x2="275.03" y2="127.40" stroke="#1a1a1a" stroke-width="1.0"/>
<line x1="282.53" y1="121.20" x2="282.53" y2="125.40" stroke="#1a1a1a" stroke-width="1.2"/>
<line x1="281.23" y1="121.20" x2="283.83" y2="121.20" stroke="#1a1a1a" stroke-width="1.0"/>
<line x1="281.23" y1="125.40" x2="283.83" y2="125.40" stroke="#1a1a1a" stroke-width="1.0"/>
<line x1="251.40" y1="106.50" x2="251.40" y2="146.30" stroke="#1a1a1a" stroke-width="1.5"/>
<line x1="250.70" y1="145.60" x2="288.60" y2="145.60" stroke="#1a1a1a" stroke-width="1.4"/>
<text x="248.80" y="109.50" font-size="6.5" text-anchor="end">700</text>
<text x="248.80" y="118.80" font-size="6.5" text-anchor="end">500</text>
<text x="248.80" y="128.10" font-size="6.5" text-anchor="end">300</text>
<text x="248.80" y="137.50" font-size="6.5" text-anchor="end">100</text>
<text x="248.80" y="147.20" font-size="6.5" text-anchor="end">0</text>
<text x="269.80" y="96.10" font-size="6.4" text-anchor="middle" textLength="42.00" lengthAdjust="spacingAndGlyphs">Cer d18:1/24:1</text>
<rect x="316.30" y="123.30" width="8.05" height="22.30" fill="#2c4f8c"/>
<rect x="325.30" y="117.30" width="8.05" height="28.30" fill="#2c4f8c"/>
<rect x="334.30" y="123.30" width="8.05" height="22.30" fill="#2c4f8c"/>
<rect x="343.30" y="115.30" width="8.05" height="30.30" fill="#2c4f8c"/>
<line x1="320.32" y1="119.00" x2="320.32" y2="127.60" stroke="#1a1a1a" stroke-width="1.2"/>
<line x1="319.02" y1="119.00" x2="321.62" y2="119.00" stroke="#1a1a1a" stroke-width="1.0"/>
<line x1="319.02" y1="127.60" x2="321.62" y2="127.60" stroke="#1a1a1a" stroke-width="1.0"/>
<line x1="329.32" y1="111.00" x2="329.32" y2="123.60" stroke="#1a1a1a" stroke-width="1.2"/>
<line x1="328.02" y1="111.00" x2="330.62" y2="111.00" stroke="#1a1a1a" stroke-width="1.0"/>
<line x1="328.02" y1="123.60" x2="330.62" y2="123.60" stroke="#1a1a1a" stroke-width="1.0"/>
<line x1="338.32" y1="121.50" x2="338.32" y2="125.10" stroke="#1a1a1a" stroke-width="1.2"/>
<line x1="337.02" y1="121.50" x2="339.62" y2="121.50" stroke="#1a1a1a" stroke-width="1.0"/>
<line x1="337.02" y1="125.10" x2="339.62" y2="125.10" stroke="#1a1a1a" stroke-width="1.0"/>
<line x1="347.32" y1="113.60" x2="347.32" y2="117.00" stroke="#1a1a1a" stroke-width="1.2"/>
<line x1="346.02" y1="113.60" x2="348.62" y2="113.60" stroke="#1a1a1a" stroke-width="1.0"/>
<line x1="346.02" y1="117.00" x2="348.62" y2="117.00" stroke="#1a1a1a" stroke-width="1.0"/>
<line x1="315.50" y1="107.60" x2="315.50" y2="146.30" stroke="#1a1a1a" stroke-width="1.5"/>
<line x1="314.80" y1="145.60" x2="352.70" y2="145.60" stroke="#1a1a1a" stroke-width="1.4"/>
<text x="312.90" y="118.80" font-size="6.5" text-anchor="end">400</text>
<text x="312.90" y="133.30" font-size="6.5" text-anchor="end">200</text>
<text x="312.90" y="147.70" font-size="6.5" text-anchor="end">0</text>
<text x="333.90" y="97.20" font-size="6.4" text-anchor="middle" textLength="42.00" lengthAdjust="spacingAndGlyphs">SM d18:2/24:1</text>
<rect x="192.10" y="193.80" width="7.55" height="19.90" fill="#e3a596"/>
<rect x="200.60" y="192.80" width="7.55" height="20.90" fill="#e3a596"/>
<rect x="209.10" y="206.60" width="7.55" height="7.10" fill="#e3a596"/>
<rect x="217.60" y="206.40" width="7.55" height="7.30" fill="#e3a596"/>
<line x1="192.80" y1="207.40" x2="228.30" y2="207.40" stroke="#b01c2c" stroke-width="1.0" stroke-dasharray="2.4,1.7"/>
<line x1="195.88" y1="182.90" x2="195.88" y2="204.70" stroke="#1a1a1a" stroke-width="1.2"/>
<line x1="194.58" y1="182.90" x2="197.18" y2="182.90" stroke="#1a1a1a" stroke-width="1.0"/>
<line x1="194.58" y1="204.70" x2="197.18" y2="204.70" stroke="#1a1a1a" stroke-width="1.0"/>
<line x1="204.38" y1="184.40" x2="204.38" y2="202.70" stroke="#1a1a1a" stroke-width="1.2"/>
<line x1="203.08" y1="184.40" x2="205.68" y2="184.40" stroke="#1a1a1a" stroke-width="1.0"/>
<line x1="203.08" y1="202.70" x2="205.68" y2="202.70" stroke="#1a1a1a" stroke-width="1.0"/>
<line x1="212.88" y1="205.60" x2="212.88" y2="207.80" stroke="#1a1a1a" stroke-width="1.2"/>
<line x1="211.58" y1="205.60" x2="214.18" y2="205.60" stroke="#1a1a1a" stroke-width="1.0"/>
<line x1="211.58" y1="207.80" x2="214.18" y2="207.80" stroke="#1a1a1a" stroke-width="1.0"/>
<line x1="221.38" y1="204.80" x2="221.38" y2="208.00" stroke="#1a1a1a" stroke-width="1.2"/>
<line x1="220.08" y1="204.80" x2="222.68" y2="204.80" stroke="#1a1a1a" stroke-width="1.0"/>
<line x1="220.08" y1="208.00" x2="222.68" y2="208.00" stroke="#1a1a1a" stroke-width="1.0"/>
<line x1="191.30" y1="174.60" x2="191.30" y2="214.40" stroke="#1a1a1a" stroke-width="1.5"/>
<line x1="190.60" y1="213.70" x2="228.50" y2="213.70" stroke="#1a1a1a" stroke-width="1.4"/>
<text x="188.70" y="176.10" font-size="6.5" text-anchor="end">400</text>
<text x="188.70" y="186.00" font-size="6.5" text-anchor="end">300</text>
<text x="188.70" y="196.00" font-size="6.5" text-anchor="end">200</text>
<text x="188.70" y="205.90" font-size="6.5" text-anchor="end">100</text>
<text x="188.70" y="215.80" font-size="6.5" text-anchor="end">0</text>
<text x="209.70" y="165.00" font-size="6.4" text-anchor="middle" textLength="20.80" lengthAdjust="spacingAndGlyphs">So 18:1</text>
<line x1="190.40" y1="174.50" x2="210.70" y2="174.50" stroke="#1a1a1a" stroke-width="1.1"/>
<path d="M201.30,170.25L201.30,172.75M202.38,170.88L200.22,172.12M202.38,172.12L200.22,170.88" stroke="#1a1a1a" stroke-width="0.75" fill="none"/>
<line x1="203.30" y1="180.40" x2="221.60" y2="180.40" stroke="#1a1a1a" stroke-width="1.1"/>
<path d="M212.70,175.85L212.70,178.35M213.78,176.47L211.62,177.72M213.78,177.72L211.62,176.47" stroke="#1a1a1a" stroke-width="0.75" fill="none"/>
<rect x="252.20" y="190.00" width="7.85" height="23.20" fill="#2c4f8c"/>
<rect x="261.00" y="187.20" width="7.85" height="26.00" fill="#2c4f8c"/>
<rect x="269.80" y="187.60" width="7.85" height="25.60" fill="#2c4f8c"/>
<rect x="278.60" y="186.00" width="7.85" height="27.20" fill="#2c4f8c"/>
<line x1="256.12" y1="186.50" x2="256.12" y2="193.50" stroke="#1a1a1a" stroke-width="1.2"/>
<line x1="254.82" y1="186.50" x2="257.43" y2="186.50" stroke="#1a1a1a" stroke-width="1.0"/>
<line x1="254.82" y1="193.50" x2="257.43" y2="193.50" stroke="#1a1a1a" stroke-width="1.0"/>
<line x1="264.93" y1="185.60" x2="264.93" y2="188.80" stroke="#1a1a1a" stroke-width="1.2"/>
<line x1="263.62" y1="185.60" x2="266.23" y2="185.60" stroke="#1a1a1a" stroke-width="1.0"/>
<line x1="263.62" y1="188.80" x2="266.23" y2="188.80" stroke="#1a1a1a" stroke-width="1.0"/>
<line x1="273.73" y1="185.80" x2="273.73" y2="189.40" stroke="#1a1a1a" stroke-width="1.2"/>
<line x1="272.43" y1="185.80" x2="275.03" y2="185.80" stroke="#1a1a1a" stroke-width="1.0"/>
<line x1="272.43" y1="189.40" x2="275.03" y2="189.40" stroke="#1a1a1a" stroke-width="1.0"/>
<line x1="282.53" y1="184.00" x2="282.53" y2="188.00" stroke="#1a1a1a" stroke-width="1.2"/>
<line x1="281.23" y1="184.00" x2="283.83" y2="184.00" stroke="#1a1a1a" stroke-width="1.0"/>
<line x1="281.23" y1="188.00" x2="283.83" y2="188.00" stroke="#1a1a1a" stroke-width="1.0"/>
<line x1="251.40" y1="174.90" x2="251.40" y2="213.90" stroke="#1a1a1a" stroke-width="1.5"/>
<line x1="250.70" y1="213.20" x2="288.60" y2="213.20" stroke="#1a1a1a" stroke-width="1.4"/>
<text x="248.80" y="183.90" font-size="6.5" text-anchor="end">40</text>
<text x="248.80" y="199.60" font-size="6.5" text-anchor="end">20</text>
<text x="248.80" y="215.20" font-size="6.5" text-anchor="end">0</text>
<text x="269.80" y="165.30" font-size="6.4" text-anchor="middle" textLength="42.00" lengthAdjust="spacingAndGlyphs">Cer d18:0/24:1</text>
<rect x="316.30" y="188.80" width="7.85" height="25.00" fill="#2c4f8c"/>
<rect x="325.10" y="185.20" width="7.85" height="28.60" fill="#2c4f8c"/>
<rect x="333.90" y="186.00" width="7.85" height="27.80" fill="#2c4f8c"/>
<rect x="342.70" y="185.20" width="7.85" height="28.60" fill="#2c4f8c"/>
<line x1="320.23" y1="181.00" x2="320.23" y2="196.00" stroke="#1a1a1a" stroke-width="1.2"/>
<line x1="318.93" y1="181.00" x2="321.53" y2="181.00" stroke="#1a1a1a" stroke-width="1.0"/>
<line x1="318.93" y1="196.00" x2="321.53" y2="196.00" stroke="#1a1a1a" stroke-width="1.0"/>
<line x1="329.03" y1="178.00" x2="329.03" y2="192.00" stroke="#1a1a1a" stroke-width="1.2"/>
<line x1="327.73" y1="178.00" x2="330.33" y2="178.00" stroke="#1a1a1a" stroke-width="1.0"/>
<line x1="327.73" y1="192.00" x2="330.33" y2="192.00" stroke="#1a1a1a" stroke-width="1.0"/>
<line x1="337.83" y1="185.00" x2="337.83" y2="187.00" stroke="#1a1a1a" stroke-width="1.2"/>
<line x1="336.53" y1="185.00" x2="339.13" y2="185.00" stroke="#1a1a1a" stroke-width="1.0"/>
<line x1="336.53" y1="187.00" x2="339.13" y2="187.00" stroke="#1a1a1a" stroke-width="1.0"/>
<line x1="346.62" y1="183.60" x2="346.62" y2="186.80" stroke="#1a1a1a" stroke-width="1.2"/>
<line x1="345.32" y1="183.60" x2="347.93" y2="183.60" stroke="#1a1a1a" stroke-width="1.0"/>
<line x1="345.32" y1="186.80" x2="347.93" y2="186.80" stroke="#1a1a1a" stroke-width="1.0"/>
<line x1="315.50" y1="175.00" x2="315.50" y2="214.50" stroke="#1a1a1a" stroke-width="1.5"/>
<line x1="314.80" y1="213.80" x2="352.70" y2="213.80" stroke="#1a1a1a" stroke-width="1.4"/>
<text x="312.90" y="181.50" font-size="6.5" text-anchor="end">3</text>
<text x="312.90" y="193.10" font-size="6.5" text-anchor="end">2</text>
<text x="312.90" y="204.30" font-size="6.5" text-anchor="end">1</text>
<text x="312.90" y="215.70" font-size="6.5" text-anchor="end">0</text>
<text x="333.90" y="165.40" font-size="6.4" text-anchor="middle" textLength="53.60" lengthAdjust="spacingAndGlyphs">HexCer d18:1/24:1</text>
<g transform="translate(159.80,72.50) rotate(-90)">
<text x="0.00" y="0.00" font-size="7.8" fill="#222" textLength="24.40" lengthAdjust="spacingAndGlyphs">Amount</text>
</g>
<g transform="translate(169.00,84.30) rotate(-90)">
<text x="0.00" y="0.00" font-size="7.6" fill="#222" textLength="31.60" lengthAdjust="spacingAndGlyphs">[pmol/mg</text>
<text x="31.60" y="1.80" font-size="4.5" fill="#222" textLength="13.00" lengthAdjust="spacingAndGlyphs">protein</text>
<text x="44.60" y="0.00" font-size="7.6" fill="#222" textLength="2.00" lengthAdjust="spacingAndGlyphs">]</text>
</g>
<g transform="translate(159.80,139.20) rotate(-90)">
<text x="0.00" y="0.00" font-size="7.8" fill="#222" textLength="24.40" lengthAdjust="spacingAndGlyphs">Amount</text>
</g>
<g transform="translate(169.00,151.00) rotate(-90)">
<text x="0.00" y="0.00" font-size="7.6" fill="#222" textLength="31.60" lengthAdjust="spacingAndGlyphs">[pmol/mg</text>
<text x="31.60" y="1.80" font-size="4.5" fill="#222" textLength="13.00" lengthAdjust="spacingAndGlyphs">protein</text>
<text x="44.60" y="0.00" font-size="7.6" fill="#222" textLength="2.00" lengthAdjust="spacingAndGlyphs">]</text>
</g>
<g transform="translate(159.80,207.20) rotate(-90)">
<text x="0.00" y="0.00" font-size="7.8" fill="#222" textLength="24.40" lengthAdjust="spacingAndGlyphs">Amount</text>
</g>
<g transform="translate(169.00,219.00) rotate(-90)">
<text x="0.00" y="0.00" font-size="7.6" fill="#222" textLength="31.60" lengthAdjust="spacingAndGlyphs">[pmol/mg</text>
<text x="31.60" y="1.80" font-size="4.5" fill="#222" textLength="13.00" lengthAdjust="spacingAndGlyphs">protein</text>
<text x="44.60" y="0.00" font-size="7.6" fill="#222" textLength="2.00" lengthAdjust="spacingAndGlyphs">]</text>
</g>
<text x="199.40" y="222.70" font-size="6.6" text-anchor="middle" textLength="9.30" lengthAdjust="spacingAndGlyphs">WT</text>
<line x1="191.00" y1="225.70" x2="207.60" y2="225.70" stroke="#222" stroke-width="1.3"/>
<text x="210.70" y="222.60" font-size="6.6" font-style="italic" textLength="15.80" lengthAdjust="spacingAndGlyphs">Smpd1</text>
<text x="226.50" y="220.20" font-size="3.8" textLength="4.00" lengthAdjust="spacingAndGlyphs">-/-</text>
<line x1="209.80" y1="225.70" x2="228.30" y2="225.70" stroke="#222" stroke-width="1.3"/>
<g transform="translate(196.80,243.50) rotate(-90)">
<text x="0.00" y="0.00" font-size="6.6" textLength="13.30" lengthAdjust="spacingAndGlyphs">unst.</text>
</g>
<g transform="translate(205.00,241.20) rotate(-90)">
<text x="0.00" y="0.00" font-size="6.6" textLength="11.00" lengthAdjust="spacingAndGlyphs">CRP</text>
</g>
<g transform="translate(214.80,243.50) rotate(-90)">
<text x="0.00" y="0.00" font-size="6.6" textLength="13.30" lengthAdjust="spacingAndGlyphs">unst.</text>
</g>
<g transform="translate(223.40,241.20) rotate(-90)">
<text x="0.00" y="0.00" font-size="6.6" textLength="11.00" lengthAdjust="spacingAndGlyphs">CRP</text>
</g>
<text x="259.50" y="222.70" font-size="6.6" text-anchor="middle" textLength="9.30" lengthAdjust="spacingAndGlyphs">WT</text>
<line x1="251.10" y1="225.70" x2="267.70" y2="225.70" stroke="#222" stroke-width="1.3"/>
<text x="270.80" y="222.60" font-size="6.6" font-style="italic" textLength="15.80" lengthAdjust="spacingAndGlyphs">Smpd1</text>
<text x="286.60" y="220.20" font-size="3.8" textLength="4.00" lengthAdjust="spacingAndGlyphs">-/-</text>
<line x1="269.90" y1="225.70" x2="288.40" y2="225.70" stroke="#222" stroke-width="1.3"/>
<g transform="translate(256.90,243.50) rotate(-90)">
<text x="0.00" y="0.00" font-size="6.6" textLength="13.30" lengthAdjust="spacingAndGlyphs">unst.</text>
</g>
<g transform="translate(265.10,241.20) rotate(-90)">
<text x="0.00" y="0.00" font-size="6.6" textLength="11.00" lengthAdjust="spacingAndGlyphs">CRP</text>
</g>
<g transform="translate(274.90,243.50) rotate(-90)">
<text x="0.00" y="0.00" font-size="6.6" textLength="13.30" lengthAdjust="spacingAndGlyphs">unst.</text>
</g>
<g transform="translate(283.50,241.20) rotate(-90)">
<text x="0.00" y="0.00" font-size="6.6" textLength="11.00" lengthAdjust="spacingAndGlyphs">CRP</text>
</g>
<text x="323.60" y="222.70" font-size="6.6" text-anchor="middle" textLength="9.30" lengthAdjust="spacingAndGlyphs">WT</text>
<line x1="315.20" y1="225.70" x2="331.80" y2="225.70" stroke="#222" stroke-width="1.3"/>
<text x="334.90" y="222.60" font-size="6.6" font-style="italic" textLength="15.80" lengthAdjust="spacingAndGlyphs">Smpd1</text>
<text x="350.70" y="220.20" font-size="3.8" textLength="4.00" lengthAdjust="spacingAndGlyphs">-/-</text>
<line x1="334.00" y1="225.70" x2="352.50" y2="225.70" stroke="#222" stroke-width="1.3"/>
<g transform="translate(321.00,243.50) rotate(-90)">
<text x="0.00" y="0.00" font-size="6.6" textLength="13.30" lengthAdjust="spacingAndGlyphs">unst.</text>
</g>
<g transform="translate(329.20,241.20) rotate(-90)">
<text x="0.00" y="0.00" font-size="6.6" textLength="11.00" lengthAdjust="spacingAndGlyphs">CRP</text>
</g>
<g transform="translate(339.00,243.50) rotate(-90)">
<text x="0.00" y="0.00" font-size="6.6" textLength="13.30" lengthAdjust="spacingAndGlyphs">unst.</text>
</g>
<g transform="translate(347.60,241.20) rotate(-90)">
<text x="0.00" y="0.00" font-size="6.6" textLength="11.00" lengthAdjust="spacingAndGlyphs">CRP</text>
</g>
<text x="373.00" y="16.00" font-size="11" fill="#000" font-weight="bold" textLength="7.60" lengthAdjust="spacingAndGlyphs">C</text>
<text x="380.40" y="33.20" font-size="6.6" fill="#222" textLength="10.00" lengthAdjust="spacingAndGlyphs">WT</text>
<path d="M402,30.80 L430,30.80 A66.5,49.2 0 0 1 496.5,80.00 L496.5,115.30" fill="none" stroke="#6a6a6a" stroke-width="1.1" stroke-dasharray="3.3,2.1"/>
<path d="M481.0,52.60 L488.0,45.00 M483.6,54.00 L490.6,46.40" fill="none" stroke="#111" stroke-width="1.2"/>
<text x="407.30" y="39.80" font-size="6.6" text-anchor="middle" fill="#222" textLength="12.40" lengthAdjust="spacingAndGlyphs">SPC</text>
<text x="445.20" y="39.80" font-size="6.6" text-anchor="middle" fill="#222" textLength="8.60" lengthAdjust="spacingAndGlyphs">SM</text>
<text x="406.30" y="61.00" font-size="6.6" text-anchor="middle" fill="#222" textLength="20.00" lengthAdjust="spacingAndGlyphs">dihCer</text>
<text x="444.90" y="61.00" font-size="6.6" text-anchor="middle" fill="#222" textLength="9.60" lengthAdjust="spacingAndGlyphs">Cer</text>
<text x="476.90" y="61.00" font-size="6.6" text-anchor="middle" fill="#222" textLength="6.80" lengthAdjust="spacingAndGlyphs">So</text>
<text x="385.50" y="68.90" font-size="6.6" text-anchor="middle" fill="#222" textLength="22.90" lengthAdjust="spacingAndGlyphs">de novo</text>
<text x="385.60" y="76.30" font-size="6.6" text-anchor="middle" fill="#222" textLength="25.20" lengthAdjust="spacingAndGlyphs">synthesis</text>
<text x="406.60" y="84.60" font-size="6.6" text-anchor="middle" fill="#222" textLength="6.90" lengthAdjust="spacingAndGlyphs">Sa</text>
<text x="445.60" y="84.60" font-size="6.6" text-anchor="middle" fill="#222" textLength="19.50" lengthAdjust="spacingAndGlyphs">HexCer</text>
<text x="477.20" y="84.60" font-size="6.6" text-anchor="middle" fill="#222" textLength="9.60" lengthAdjust="spacingAndGlyphs">S1P</text>
<text x="406.60" y="108.00" font-size="6.6" text-anchor="middle" fill="#222" textLength="13.90" lengthAdjust="spacingAndGlyphs">Sa1P</text>
<text x="445.40" y="108.00" font-size="6.6" text-anchor="middle" fill="#222" textLength="19.70" lengthAdjust="spacingAndGlyphs">LacCer</text>
<text x="496.50" y="122.90" font-size="6.6" text-anchor="middle" fill="#222" textLength="30.00" lengthAdjust="spacingAndGlyphs">membrane</text>
<line x1="434.30" y1="37.40" x2="424.40" y2="37.40" stroke="#111" stroke-width="1.2"/>
<path d="M421.40,37.40 L425.20,35.50 L425.20,39.30 Z" fill="#111"/>
<line x1="443.40" y1="52.80" x2="443.40" y2="45.80" stroke="#111" stroke-width="1.2"/>
<path d="M443.40,42.80 L441.50,46.60 L445.30,46.60 Z" fill="#111"/>
<line x1="447.40" y1="42.80" x2="447.40" y2="49.80" stroke="#111" stroke-width="1.2"/>
<path d="M447.40,52.80 L445.50,49.00 L449.30,49.00 Z" fill="#111"/>
<line x1="455.60" y1="56.10" x2="463.80" y2="56.10" stroke="#111" stroke-width="1.2"/>
<path d="M466.80,56.10 L463.00,54.20 L463.00,58.00 Z" fill="#111"/>
<line x1="466.80" y1="59.70" x2="458.60" y2="59.70" stroke="#111" stroke-width="1.2"/>
<path d="M455.60,59.70 L459.40,57.80 L459.40,61.60 Z" fill="#111"/>
<line x1="404.60" y1="76.00" x2="404.60" y2="67.60" stroke="#111" stroke-width="1.2"/>
<path d="M404.60,64.60 L402.70,68.40 L406.50,68.40 Z" fill="#111"/>
<line x1="408.60" y1="64.60" x2="408.60" y2="73.00" stroke="#111" stroke-width="1.2"/>
<path d="M408.60,76.00 L406.70,72.20 L410.50,72.20 Z" fill="#111"/>
<line x1="433.00" y1="58.20" x2="425.50" y2="58.20" stroke="#111" stroke-width="1.2"/>
<path d="M422.50,58.20 L426.30,56.30 L426.30,60.10 Z" fill="#111"/>
<line x1="443.40" y1="76.00" x2="443.40" y2="67.60" stroke="#111" stroke-width="1.2"/>
<path d="M443.40,64.60 L441.50,68.40 L445.30,68.40 Z" fill="#111"/>
<line x1="447.40" y1="64.60" x2="447.40" y2="73.00" stroke="#111" stroke-width="1.2"/>
<path d="M447.40,76.00 L445.50,72.20 L449.30,72.20 Z" fill="#111"/>
<line x1="475.80" y1="76.00" x2="475.80" y2="67.60" stroke="#111" stroke-width="1.2"/>
<path d="M475.80,64.60 L473.90,68.40 L477.70,68.40 Z" fill="#111"/>
<line x1="479.80" y1="64.60" x2="479.80" y2="73.00" stroke="#111" stroke-width="1.2"/>
<path d="M479.80,76.00 L477.90,72.20 L481.70,72.20 Z" fill="#111"/>
<line x1="406.60" y1="88.20" x2="406.60" y2="96.80" stroke="#111" stroke-width="1.2"/>
<path d="M406.60,99.80 L404.70,96.00 L408.50,96.00 Z" fill="#111"/>
<line x1="443.40" y1="99.80" x2="443.40" y2="91.20" stroke="#111" stroke-width="1.2"/>
<path d="M443.40,88.20 L441.50,92.00 L445.30,92.00 Z" fill="#111"/>
<line x1="447.40" y1="88.20" x2="447.40" y2="96.80" stroke="#111" stroke-width="1.2"/>
<path d="M447.40,99.80 L445.50,96.00 L449.30,96.00 Z" fill="#111"/>
<line x1="490.00" y1="80.60" x2="499.20" y2="80.60" stroke="#111" stroke-width="1.2"/>
<path d="M502.20,80.60 L498.40,78.70 L498.40,82.50 Z" fill="#111"/>
<line x1="502.20" y1="84.20" x2="493.00" y2="84.20" stroke="#111" stroke-width="1.2"/>
<path d="M490.00,84.20 L493.80,82.30 L493.80,86.10 Z" fill="#111"/>
<path d="M381.00,79.70 L386.20,84.90 M386.20,79.70 L381.00,84.90" fill="none" stroke="#a8102a" stroke-width="3.2" stroke-linecap="round"/>
<path d="M391.4,82.30 L387.6,80.40 L387.6,84.20 Z" fill="#111"/>
<text x="372.40" y="149.60" font-size="6.6" fill="#222" font-style="italic" textLength="19.50" lengthAdjust="spacingAndGlyphs">Smpd1</text>
<text x="391.90" y="147.00" font-size="3.9" fill="#222" textLength="5.00" lengthAdjust="spacingAndGlyphs">-/-</text>
<path d="M402,147.40 L430,147.40 A66.5,49.2 0 0 1 496.5,196.60 L496.5,231.90" fill="none" stroke="#6a6a6a" stroke-width="1.1" stroke-dasharray="3.3,2.1"/>
<path d="M481.0,169.20 L488.0,161.60 M483.6,170.60 L490.6,163.00" fill="none" stroke="#111" stroke-width="1.2"/>
<text x="407.30" y="157.70" font-size="6.6" text-anchor="middle" fill="#222" textLength="12.40" lengthAdjust="spacingAndGlyphs">SPC</text>
<text x="445.20" y="157.70" font-size="6.6" text-anchor="middle" fill="#222" textLength="8.60" lengthAdjust="spacingAndGlyphs">SM</text>
<text x="406.30" y="177.60" font-size="6.6" text-anchor="middle" fill="#222" textLength="20.00" lengthAdjust="spacingAndGlyphs">dihCer</text>
<text x="444.90" y="177.60" font-size="6.6" text-anchor="middle" fill="#222" textLength="9.60" lengthAdjust="spacingAndGlyphs">Cer</text>
<text x="476.90" y="177.60" font-size="6.6" text-anchor="middle" fill="#222" textLength="6.80" lengthAdjust="spacingAndGlyphs">So</text>
<text x="385.50" y="185.50" font-size="6.6" text-anchor="middle" fill="#222" textLength="22.90" lengthAdjust="spacingAndGlyphs">de novo</text>
<text x="385.60" y="192.90" font-size="6.6" text-anchor="middle" fill="#222" textLength="25.20" lengthAdjust="spacingAndGlyphs">synthesis</text>
<text x="406.60" y="201.20" font-size="6.6" text-anchor="middle" fill="#222" textLength="6.90" lengthAdjust="spacingAndGlyphs">Sa</text>
<text x="445.60" y="201.20" font-size="6.6" text-anchor="middle" fill="#222" textLength="19.50" lengthAdjust="spacingAndGlyphs">HexCer</text>
<text x="477.20" y="201.20" font-size="6.6" text-anchor="middle" fill="#222" textLength="9.60" lengthAdjust="spacingAndGlyphs">S1P</text>
<text x="406.60" y="224.60" font-size="6.6" text-anchor="middle" fill="#222" textLength="13.90" lengthAdjust="spacingAndGlyphs">Sa1P</text>
<text x="445.40" y="224.60" font-size="6.6" text-anchor="middle" fill="#222" textLength="19.70" lengthAdjust="spacingAndGlyphs">LacCer</text>
<text x="496.50" y="239.50" font-size="6.6" text-anchor="middle" fill="#222" textLength="30.00" lengthAdjust="spacingAndGlyphs">membrane</text>
<line x1="434.30" y1="154.80" x2="423.20" y2="154.80" stroke="#5aa53a" stroke-width="1.2"/>
<path d="M420.20,154.80 L424.00,152.90 L424.00,156.70 Z" fill="#5aa53a"/>
<line x1="442.60" y1="169.80" x2="442.60" y2="163.20" stroke="#111" stroke-width="1.2"/>
<path d="M442.60,160.20 L440.70,164.00 L444.50,164.00 Z" fill="#111"/>
<line x1="448.80" y1="159.40" x2="448.80" y2="166.40" stroke="#a8102a" stroke-width="1.2"/>
<path d="M448.80,169.40 L446.90,165.60 L450.70,165.60 Z" fill="#a8102a"/>
<path d="M447.00,161.00 L450.80,164.80 M450.80,161.00 L447.00,164.80" fill="none" stroke="#a8102a" stroke-width="2.8" stroke-linecap="round"/>
<line x1="455.60" y1="172.70" x2="463.80" y2="172.70" stroke="#a8102a" stroke-width="1.2"/>
<path d="M466.80,172.70 L463.00,170.80 L463.00,174.60 Z" fill="#a8102a"/>
<line x1="466.80" y1="176.30" x2="458.60" y2="176.30" stroke="#111" stroke-width="1.2"/>
<path d="M455.60,176.30 L459.40,174.40 L459.40,178.20 Z" fill="#111"/>
<line x1="404.60" y1="192.60" x2="404.60" y2="184.20" stroke="#111" stroke-width="1.2"/>
<path d="M404.60,181.20 L402.70,185.00 L406.50,185.00 Z" fill="#111"/>
<line x1="408.60" y1="181.20" x2="408.60" y2="189.60" stroke="#a8102a" stroke-width="1.2"/>
<path d="M408.60,192.60 L406.70,188.80 L410.50,188.80 Z" fill="#a8102a"/>
<line x1="433.00" y1="174.80" x2="425.50" y2="174.80" stroke="#111" stroke-width="1.2"/>
<path d="M422.50,174.80 L426.30,172.90 L426.30,176.70 Z" fill="#111"/>
<line x1="443.40" y1="192.60" x2="443.40" y2="184.20" stroke="#111" stroke-width="1.2"/>
<path d="M443.40,181.20 L441.50,185.00 L445.30,185.00 Z" fill="#111"/>
<line x1="447.40" y1="181.20" x2="447.40" y2="189.60" stroke="#111" stroke-width="1.2"/>
<path d="M447.40,192.60 L445.50,188.80 L449.30,188.80 Z" fill="#111"/>
<line x1="475.80" y1="192.60" x2="475.80" y2="184.20" stroke="#111" stroke-width="1.2"/>
<path d="M475.80,181.20 L473.90,185.00 L477.70,185.00 Z" fill="#111"/>
<line x1="479.80" y1="181.20" x2="479.80" y2="189.60" stroke="#111" stroke-width="1.2"/>
<path d="M479.80,192.60 L477.90,188.80 L481.70,188.80 Z" fill="#111"/>
<line x1="406.60" y1="204.80" x2="406.60" y2="213.40" stroke="#111" stroke-width="1.2"/>
<path d="M406.60,216.40 L404.70,212.60 L408.50,212.60 Z" fill="#111"/>
<line x1="443.40" y1="216.40" x2="443.40" y2="207.80" stroke="#111" stroke-width="1.2"/>
<path d="M443.40,204.80 L441.50,208.60 L445.30,208.60 Z" fill="#111"/>
<line x1="447.40" y1="204.80" x2="447.40" y2="213.40" stroke="#111" stroke-width="1.2"/>
<path d="M447.40,216.40 L445.50,212.60 L449.30,212.60 Z" fill="#111"/>
<line x1="490.00" y1="197.20" x2="499.20" y2="197.20" stroke="#111" stroke-width="1.2"/>
<path d="M502.20,197.20 L498.40,195.30 L498.40,199.10 Z" fill="#111"/>
<line x1="502.20" y1="200.80" x2="493.00" y2="200.80" stroke="#111" stroke-width="1.2"/>
<path d="M490.00,200.80 L493.80,198.90 L493.80,202.70 Z" fill="#111"/>
<path d="M381.00,196.30 L386.20,201.50 M386.20,196.30 L381.00,201.50" fill="none" stroke="#a8102a" stroke-width="3.2" stroke-linecap="round"/>
<path d="M391.4,198.90 L387.6,197.00 L387.6,200.80 Z" fill="#111"/>
<text x="8.00" y="275.60" font-size="11" fill="#000" font-weight="bold" textLength="8.20" lengthAdjust="spacingAndGlyphs">D</text>
<rect x="44.20" y="286.60" width="6.00" height="5.20" fill="#b7002c"/>
<text x="52.70" y="291.20" font-size="5.6" textLength="16.20" lengthAdjust="spacingAndGlyphs">vehicle</text>
<rect x="44.20" y="293.90" width="6.00" height="5.20" fill="#2c4f8c"/>
<text x="52.70" y="298.50" font-size="5.6" textLength="9.20" lengthAdjust="spacingAndGlyphs">SPC</text>
<rect x="44.20" y="312.00" width="7.70" height="42.00" fill="#b7002c"/>
<rect x="51.90" y="331.20" width="7.70" height="22.80" fill="#2c4f8c"/>
<line x1="55.75" y1="326.80" x2="55.75" y2="332.20" stroke="#1a1a1a" stroke-width="1.2"/>
<line x1="54.35" y1="326.80" x2="57.15" y2="326.80" stroke="#1a1a1a" stroke-width="1.0"/>
<rect x="63.40" y="312.00" width="7.70" height="42.00" fill="#b7002c"/>
<rect x="71.10" y="342.20" width="7.70" height="11.80" fill="#2c4f8c"/>
<line x1="74.95" y1="336.60" x2="74.95" y2="343.20" stroke="#1a1a1a" stroke-width="1.2"/>
<line x1="73.55" y1="336.60" x2="76.35" y2="336.60" stroke="#1a1a1a" stroke-width="1.0"/>
<line x1="41.80" y1="300.80" x2="41.80" y2="354.70" stroke="#1a1a1a" stroke-width="1.5"/>
<line x1="41.10" y1="354.00" x2="82.30" y2="354.00" stroke="#1a1a1a" stroke-width="1.5"/>
<line x1="39.40" y1="303.50" x2="41.80" y2="303.50" stroke="#1a1a1a" stroke-width="1.0"/>
<text x="36.40" y="305.80" font-size="6.6" text-anchor="end" textLength="8.40" lengthAdjust="spacingAndGlyphs">1.2</text>
<line x1="39.40" y1="320.50" x2="41.80" y2="320.50" stroke="#1a1a1a" stroke-width="1.0"/>
<text x="36.40" y="322.80" font-size="6.6" text-anchor="end" textLength="8.40" lengthAdjust="spacingAndGlyphs">0.8</text>
<line x1="39.40" y1="337.20" x2="41.80" y2="337.20" stroke="#1a1a1a" stroke-width="1.0"/>
<text x="36.40" y="339.50" font-size="6.6" text-anchor="end" textLength="8.40" lengthAdjust="spacingAndGlyphs">0.4</text>
<line x1="39.40" y1="354.00" x2="41.80" y2="354.00" stroke="#1a1a1a" stroke-width="1.0"/>
<text x="36.40" y="356.30" font-size="6.6" text-anchor="end" textLength="8.40" lengthAdjust="spacingAndGlyphs">0.0</text>
<path d="M53.90,322.15L53.90,324.65M54.98,322.77L52.82,324.02M54.98,324.02L52.82,322.77" stroke="#1a1a1a" stroke-width="0.75" fill="none"/>
<path d="M57.50,322.15L57.50,324.65M58.58,322.77L56.42,324.02M58.58,324.02L56.42,322.77" stroke="#1a1a1a" stroke-width="0.75" fill="none"/>
<path d="M73.10,332.15L73.10,334.65M74.18,332.77L72.02,334.02M74.18,334.02L72.02,332.77" stroke="#1a1a1a" stroke-width="0.75" fill="none"/>
<path d="M76.70,332.15L76.70,334.65M77.78,332.77L75.62,334.02M77.78,334.02L75.62,332.77" stroke="#1a1a1a" stroke-width="0.75" fill="none"/>
<text x="42.20" y="365.60" font-size="6.8" text-anchor="end" textLength="26.80" lengthAdjust="spacingAndGlyphs">SPC [μM]</text>
<text x="51.60" y="365.60" font-size="6.8" text-anchor="middle">5</text>
<text x="70.40" y="365.60" font-size="6.8" text-anchor="middle">20</text>
<text x="42.20" y="374.70" font-size="6.8" text-anchor="end" textLength="34.30" lengthAdjust="spacingAndGlyphs">CRP [μg/ml]</text>
<text x="51.60" y="374.70" font-size="6.8" text-anchor="middle">1</text>
<text x="70.40" y="374.70" font-size="6.8" text-anchor="middle">1</text>
<g transform="translate(21.00,352.00) rotate(-90)">
<text x="0.00" y="0.00" font-size="8.0" fill="#222" textLength="51.50" lengthAdjust="spacingAndGlyphs">ATP-release [nM]</text>
</g>
<text x="8.00" y="412.60" font-size="11" fill="#000" font-weight="bold" textLength="7.20" lengthAdjust="spacingAndGlyphs">E</text>
<rect x="44.50" y="409.20" width="6.00" height="5.20" fill="#b7002c"/>
<text x="53.00" y="413.80" font-size="5.6" textLength="16.20" lengthAdjust="spacingAndGlyphs">vehicle</text>
<rect x="44.50" y="416.50" width="6.00" height="5.20" fill="#2c4f8c"/>
<text x="53.00" y="421.10" font-size="5.6" textLength="9.20" lengthAdjust="spacingAndGlyphs">SPC</text>
<rect x="44.10" y="434.00" width="7.70" height="41.30" fill="#b7002c"/>
<rect x="51.80" y="441.20" width="7.70" height="34.10" fill="#2c4f8c"/>
<line x1="55.65" y1="434.30" x2="55.65" y2="442.20" stroke="#1a1a1a" stroke-width="1.2"/>
<line x1="54.25" y1="434.30" x2="57.05" y2="434.30" stroke="#1a1a1a" stroke-width="1.0"/>
<rect x="63.20" y="434.00" width="7.70" height="41.30" fill="#b7002c"/>
<rect x="70.90" y="451.50" width="7.70" height="23.80" fill="#2c4f8c"/>
<line x1="74.75" y1="444.90" x2="74.75" y2="452.50" stroke="#1a1a1a" stroke-width="1.2"/>
<line x1="73.35" y1="444.90" x2="76.15" y2="444.90" stroke="#1a1a1a" stroke-width="1.0"/>
<line x1="41.90" y1="422.80" x2="41.90" y2="476.00" stroke="#1a1a1a" stroke-width="1.5"/>
<line x1="41.20" y1="475.30" x2="82.40" y2="475.30" stroke="#1a1a1a" stroke-width="1.5"/>
<line x1="39.50" y1="425.50" x2="41.90" y2="425.50" stroke="#1a1a1a" stroke-width="1.0"/>
<text x="36.50" y="427.80" font-size="6.6" text-anchor="end" textLength="8.40" lengthAdjust="spacingAndGlyphs">1.2</text>
<line x1="39.50" y1="442.00" x2="41.90" y2="442.00" stroke="#1a1a1a" stroke-width="1.0"/>
<text x="36.50" y="444.30" font-size="6.6" text-anchor="end" textLength="8.40" lengthAdjust="spacingAndGlyphs">0.8</text>
<line x1="39.50" y1="458.60" x2="41.90" y2="458.60" stroke="#1a1a1a" stroke-width="1.0"/>
<text x="36.50" y="460.90" font-size="6.6" text-anchor="end" textLength="8.40" lengthAdjust="spacingAndGlyphs">0.4</text>
<line x1="39.50" y1="475.30" x2="41.90" y2="475.30" stroke="#1a1a1a" stroke-width="1.0"/>
<text x="36.50" y="477.60" font-size="6.6" text-anchor="end" textLength="8.40" lengthAdjust="spacingAndGlyphs">0.0</text>
<path d="M74.80,440.35L74.80,442.85M75.88,440.98L73.72,442.23M75.88,442.23L73.72,440.98" stroke="#1a1a1a" stroke-width="0.75" fill="none"/>
<text x="42.20" y="486.20" font-size="6.8" text-anchor="end" textLength="26.80" lengthAdjust="spacingAndGlyphs">SPC [μM]</text>
<text x="51.60" y="486.20" font-size="6.8" text-anchor="middle">5</text>
<text x="70.40" y="486.20" font-size="6.8" text-anchor="middle">20</text>
<text x="42.20" y="495.50" font-size="6.8" text-anchor="end" textLength="34.30" lengthAdjust="spacingAndGlyphs">CRP [μg/ml]</text>
<text x="51.60" y="495.50" font-size="6.8" text-anchor="middle">1</text>
<text x="70.40" y="495.50" font-size="6.8" text-anchor="middle">1</text>
<g transform="translate(20.20,472.30) rotate(-90)">
<text x="0.00" y="0.00" font-size="8.0" fill="#222" textLength="48.50" lengthAdjust="spacingAndGlyphs">Aggregation [%]</text>
</g>
<line x1="100.40" y1="275.40" x2="104.80" y2="275.40" stroke="#8db56a" stroke-width="1.2"/>
<text x="107.20" y="277.40" font-size="5.6" textLength="17.20" lengthAdjust="spacingAndGlyphs">control</text>
<line x1="128.20" y1="275.40" x2="132.60" y2="275.40" stroke="#2c3d6c" stroke-width="1.5"/>
<text x="136.00" y="277.40" font-size="5.6" textLength="9.40" lengthAdjust="spacingAndGlyphs">SPC</text>
<line x1="103.40" y1="285.60" x2="103.40" y2="313.40" stroke="#111" stroke-width="1.3"/>
<path d="M103.4,282.60 L101.5,286.20 L105.3,286.20 Z" fill="#111"/>
<line x1="102.80" y1="313.40" x2="144.00" y2="313.40" stroke="#111" stroke-width="1.5"/>
<text x="106.90" y="286.90" font-size="5.6" fill="#1a1a1a" textLength="23.60" lengthAdjust="spacingAndGlyphs">5 μM SPC</text>
<g transform="translate(97.90,314.10) rotate(-90)">
<text x="0.00" y="0.00" font-size="8.6" fill="#222" textLength="31.70" lengthAdjust="spacingAndGlyphs">ATP-release</text>
</g>
<path d="M103.4,313.0 L114.2,313.0 C115.6,305 116.6,290.5 119.0,289.7 C124,290.5 134,297 143.8,302.0" fill="none" stroke="#8db56a" stroke-width="1.3"/>
<path d="M103.4,313.0 L113.8,313.0 C115.2,307 117.0,300.5 120.2,300.1 C126,301.5 135,304.8 143.8,306.9" fill="none" stroke="#2c3d6c" stroke-width="1.5"/>
<line x1="103.40" y1="326.20" x2="103.40" y2="353.50" stroke="#111" stroke-width="1.3"/>
<path d="M103.4,323.20 L101.5,326.80 L105.3,326.80 Z" fill="#111"/>
<line x1="102.80" y1="353.50" x2="144.00" y2="353.50" stroke="#111" stroke-width="1.5"/>
<text x="106.90" y="327.50" font-size="5.6" fill="#1a1a1a" textLength="25.80" lengthAdjust="spacingAndGlyphs">20 μM SPC</text>
<g transform="translate(97.90,354.20) rotate(-90)">
<text x="0.00" y="0.00" font-size="8.6" fill="#222" textLength="31.00" lengthAdjust="spacingAndGlyphs">ATP-release</text>
</g>
<path d="M103.4,353.1 L114.0,353.1 C115.0,345 115.8,336.5 117.3,336.2 C123,337.5 134,342 143.8,344.5" fill="none" stroke="#8db56a" stroke-width="1.3"/>
<path d="M103.4,353.1 L122,353.1 C130,352.6 137,351 143.8,349.6" fill="none" stroke="#2c3d6c" stroke-width="1.5"/>
<text x="103.40" y="362.30" font-size="6.8" text-anchor="middle">0</text>
<text x="143.40" y="362.30" font-size="6.8" text-anchor="middle">10</text>
<text x="123.40" y="374.40" font-size="8.4" text-anchor="middle" textLength="33.70" lengthAdjust="spacingAndGlyphs">Time [min]</text>
<line x1="100.40" y1="394.90" x2="104.80" y2="394.90" stroke="#8db56a" stroke-width="1.2"/>
<text x="107.20" y="396.90" font-size="5.6" textLength="17.20" lengthAdjust="spacingAndGlyphs">control</text>
<line x1="128.20" y1="394.90" x2="132.60" y2="394.90" stroke="#2c3d6c" stroke-width="1.5"/>
<text x="136.00" y="396.90" font-size="5.6" textLength="9.40" lengthAdjust="spacingAndGlyphs">SPC</text>
<line x1="103.40" y1="404.30" x2="103.40" y2="432.80" stroke="#111" stroke-width="1.3"/>
<path d="M103.4,401.30 L101.5,404.90 L105.3,404.90 Z" fill="#111"/>
<line x1="102.80" y1="432.80" x2="144.00" y2="432.80" stroke="#111" stroke-width="1.5"/>
<text x="106.90" y="405.60" font-size="5.6" fill="#1a1a1a" textLength="23.60" lengthAdjust="spacingAndGlyphs">5 μM SPC</text>
<g transform="translate(98.80,437.00) rotate(-90)">
<text x="0.00" y="0.00" font-size="8.6" fill="#222" textLength="36.00" lengthAdjust="spacingAndGlyphs">Aggregation</text>
</g>
<path d="M103.4,430.3 L114.5,430.3 C117,430 117,419 121,416 C127,412.5 135,412.4 143.8,411.9" fill="none" stroke="#8db56a" stroke-width="1.4"/>
<path d="M103.4,431.0 L115.0,431.0 C117.5,430.5 118,420 122,417 C128,413.5 136,413.2 143.8,412.8" fill="none" stroke="#2c3d6c" stroke-width="1.5"/>
<line x1="103.40" y1="446.80" x2="103.40" y2="475.60" stroke="#111" stroke-width="1.3"/>
<path d="M103.4,443.80 L101.5,447.40 L105.3,447.40 Z" fill="#111"/>
<line x1="102.80" y1="475.60" x2="144.00" y2="475.60" stroke="#111" stroke-width="1.5"/>
<text x="106.90" y="448.10" font-size="5.6" fill="#1a1a1a" textLength="25.80" lengthAdjust="spacingAndGlyphs">20 μM SPC</text>
<g transform="translate(98.80,479.20) rotate(-90)">
<text x="0.00" y="0.00" font-size="8.6" fill="#222" textLength="35.60" lengthAdjust="spacingAndGlyphs">Aggregation</text>
</g>
<path d="M103.4,472.3 L113,472.1 C116,472.6 118,471.3 120,471.8 C124,465 130,459 143.8,456.8" fill="none" stroke="#8db56a" stroke-width="1.3"/>
<path d="M103.4,473.5 L116,473.4 C125,473.3 135,471.5 143.8,469.4" fill="none" stroke="#2c3d6c" stroke-width="1.5"/>
<text x="103.40" y="483.60" font-size="6.8" text-anchor="middle">0</text>
<text x="143.40" y="483.60" font-size="6.8" text-anchor="middle">10</text>
<text x="123.40" y="495.90" font-size="8.4" text-anchor="middle" textLength="33.70" lengthAdjust="spacingAndGlyphs">Time [min]</text>
<text x="165.00" y="275.30" font-size="11" fill="#000" font-weight="bold" textLength="6.90" lengthAdjust="spacingAndGlyphs">F</text>
<rect x="204.20" y="296.60" width="11.80" height="57.10" fill="#b7002c"/>
<line x1="210.10" y1="290.60" x2="210.10" y2="297.60" stroke="#1a1a1a" stroke-width="1.2"/>
<line x1="208.50" y1="290.60" x2="211.70" y2="290.60" stroke="#1a1a1a" stroke-width="1.0"/>
<rect x="216.00" y="330.60" width="11.80" height="23.10" fill="#2c4f8c"/>
<line x1="221.90" y1="323.30" x2="221.90" y2="331.60" stroke="#1a1a1a" stroke-width="1.2"/>
<line x1="220.30" y1="323.30" x2="223.50" y2="323.30" stroke="#1a1a1a" stroke-width="1.0"/>
<rect x="232.70" y="323.70" width="11.80" height="30.00" fill="#b7002c"/>
<line x1="238.60" y1="321.30" x2="238.60" y2="324.70" stroke="#1a1a1a" stroke-width="1.2"/>
<line x1="237.00" y1="321.30" x2="240.20" y2="321.30" stroke="#1a1a1a" stroke-width="1.0"/>
<rect x="244.30" y="324.70" width="11.80" height="29.00" fill="#2c4f8c"/>
<line x1="250.20" y1="314.40" x2="250.20" y2="325.70" stroke="#1a1a1a" stroke-width="1.2"/>
<line x1="248.60" y1="314.40" x2="251.80" y2="314.40" stroke="#1a1a1a" stroke-width="1.0"/>
<line x1="198.20" y1="283.50" x2="198.20" y2="354.40" stroke="#1a1a1a" stroke-width="1.5"/>
<line x1="195.60" y1="353.70" x2="259.00" y2="353.70" stroke="#1a1a1a" stroke-width="1.5"/>
<line x1="195.80" y1="285.80" x2="198.20" y2="285.80" stroke="#1a1a1a" stroke-width="1.0"/>
<text x="193.60" y="288.10" font-size="6.6" text-anchor="end">2.5</text>
<line x1="195.80" y1="299.30" x2="198.20" y2="299.30" stroke="#1a1a1a" stroke-width="1.0"/>
<text x="193.60" y="301.60" font-size="6.6" text-anchor="end">2.0</text>
<line x1="195.80" y1="312.80" x2="198.20" y2="312.80" stroke="#1a1a1a" stroke-width="1.0"/>
<text x="193.60" y="315.10" font-size="6.6" text-anchor="end">1.5</text>
<line x1="195.80" y1="326.40" x2="198.20" y2="326.40" stroke="#1a1a1a" stroke-width="1.0"/>
<text x="193.60" y="328.70" font-size="6.6" text-anchor="end">1.0</text>
<line x1="195.80" y1="339.90" x2="198.20" y2="339.90" stroke="#1a1a1a" stroke-width="1.0"/>
<text x="193.60" y="342.20" font-size="6.6" text-anchor="end">0.5</text>
<line x1="195.80" y1="353.40" x2="198.20" y2="353.40" stroke="#1a1a1a" stroke-width="1.0"/>
<text x="193.60" y="355.70" font-size="6.6" text-anchor="end">0.0</text>
<path d="M220.10,318.35L220.10,320.85M221.18,318.98L219.02,320.23M221.18,320.23L219.02,318.98" stroke="#1a1a1a" stroke-width="0.75" fill="none"/>
<path d="M223.70,318.35L223.70,320.85M224.78,318.98L222.62,320.23M224.78,320.23L222.62,318.98" stroke="#1a1a1a" stroke-width="0.75" fill="none"/>
<line x1="216.00" y1="353.70" x2="216.00" y2="355.90" stroke="#1a1a1a" stroke-width="1.0"/>
<line x1="244.50" y1="353.70" x2="244.50" y2="355.90" stroke="#1a1a1a" stroke-width="1.0"/>
<g transform="translate(178.60,343.30) rotate(-90)">
<text x="0.00" y="0.00" font-size="8.0" fill="#222" textLength="50.00" lengthAdjust="spacingAndGlyphs">ATP-release [nM]</text>
</g>
<text x="199.00" y="365.80" font-size="6.8" text-anchor="end" textLength="18.60" lengthAdjust="spacingAndGlyphs">Smpd1</text>
<text x="216.00" y="365.80" font-size="6.8" text-anchor="middle" textLength="12.90" lengthAdjust="spacingAndGlyphs">+ / +</text>
<text x="244.30" y="365.80" font-size="6.8" text-anchor="middle" textLength="10.00" lengthAdjust="spacingAndGlyphs">- / -</text>
<text x="199.00" y="375.00" font-size="6.8" text-anchor="end" textLength="26.60" lengthAdjust="spacingAndGlyphs">SPC [μM]</text>
<text x="216.00" y="375.00" font-size="6.8" text-anchor="middle">20</text>
<text x="244.30" y="375.00" font-size="6.8" text-anchor="middle">20</text>
<text x="199.00" y="384.20" font-size="6.8" text-anchor="end" textLength="34.20" lengthAdjust="spacingAndGlyphs">CRP [μg/ml]</text>
<text x="216.00" y="384.20" font-size="6.8" text-anchor="middle">1</text>
<text x="244.30" y="384.20" font-size="6.8" text-anchor="middle">1</text>
<rect x="204.20" y="415.90" width="11.80" height="49.60" fill="#b7002c"/>
<line x1="210.10" y1="412.30" x2="210.10" y2="416.90" stroke="#1a1a1a" stroke-width="1.2"/>
<line x1="208.50" y1="412.30" x2="211.70" y2="412.30" stroke="#1a1a1a" stroke-width="1.0"/>
<rect x="216.00" y="430.10" width="11.80" height="35.40" fill="#2c4f8c"/>
<line x1="221.90" y1="425.40" x2="221.90" y2="431.10" stroke="#1a1a1a" stroke-width="1.2"/>
<line x1="220.30" y1="425.40" x2="223.50" y2="425.40" stroke="#1a1a1a" stroke-width="1.0"/>
<rect x="232.70" y="430.30" width="11.80" height="35.20" fill="#b7002c"/>
<line x1="238.60" y1="427.80" x2="238.60" y2="431.30" stroke="#1a1a1a" stroke-width="1.2"/>
<line x1="237.00" y1="427.80" x2="240.20" y2="427.80" stroke="#1a1a1a" stroke-width="1.0"/>
<rect x="244.30" y="434.10" width="11.80" height="31.40" fill="#2c4f8c"/>
<line x1="250.20" y1="431.70" x2="250.20" y2="435.10" stroke="#1a1a1a" stroke-width="1.2"/>
<line x1="248.60" y1="431.70" x2="251.80" y2="431.70" stroke="#1a1a1a" stroke-width="1.0"/>
<line x1="198.20" y1="396.60" x2="198.20" y2="466.20" stroke="#1a1a1a" stroke-width="1.5"/>
<line x1="195.60" y1="465.50" x2="259.00" y2="465.50" stroke="#1a1a1a" stroke-width="1.5"/>
<line x1="195.80" y1="398.00" x2="198.20" y2="398.00" stroke="#1a1a1a" stroke-width="1.0"/>
<text x="193.20" y="400.30" font-size="6.6" text-anchor="end">80</text>
<line x1="195.80" y1="414.90" x2="198.20" y2="414.90" stroke="#1a1a1a" stroke-width="1.0"/>
<text x="193.20" y="417.20" font-size="6.6" text-anchor="end">60</text>
<line x1="195.80" y1="431.80" x2="198.20" y2="431.80" stroke="#1a1a1a" stroke-width="1.0"/>
<text x="193.20" y="434.10" font-size="6.6" text-anchor="end">40</text>
<line x1="195.80" y1="448.60" x2="198.20" y2="448.60" stroke="#1a1a1a" stroke-width="1.0"/>
<text x="193.20" y="450.90" font-size="6.6" text-anchor="end">20</text>
<line x1="195.80" y1="465.40" x2="198.20" y2="465.40" stroke="#1a1a1a" stroke-width="1.0"/>
<text x="193.20" y="467.70" font-size="6.6" text-anchor="end">0</text>
<path d="M220.10,421.15L220.10,423.65M221.18,421.77L219.02,423.02M221.18,423.02L219.02,421.77" stroke="#1a1a1a" stroke-width="0.75" fill="none"/>
<path d="M223.70,421.15L223.70,423.65M224.78,421.77L222.62,423.02M224.78,423.02L222.62,421.77" stroke="#1a1a1a" stroke-width="0.75" fill="none"/>
<line x1="216.00" y1="465.50" x2="216.00" y2="467.70" stroke="#1a1a1a" stroke-width="1.0"/>
<line x1="244.50" y1="465.50" x2="244.50" y2="467.70" stroke="#1a1a1a" stroke-width="1.0"/>
<g transform="translate(178.60,453.50) rotate(-90)">
<text x="0.00" y="0.00" font-size="8.0" fill="#222" textLength="45.50" lengthAdjust="spacingAndGlyphs">P-selectin [MFI]</text>
</g>
<text x="199.00" y="477.20" font-size="6.8" text-anchor="end" textLength="18.60" lengthAdjust="spacingAndGlyphs">Smpd1</text>
<text x="216.00" y="477.20" font-size="6.8" text-anchor="middle" textLength="12.90" lengthAdjust="spacingAndGlyphs">+ / +</text>
<text x="244.30" y="477.20" font-size="6.8" text-anchor="middle" textLength="10.00" lengthAdjust="spacingAndGlyphs">- / -</text>
<text x="199.00" y="487.00" font-size="6.8" text-anchor="end" textLength="26.60" lengthAdjust="spacingAndGlyphs">SPC [μM]</text>
<text x="216.00" y="487.00" font-size="6.8" text-anchor="middle">20</text>
<text x="244.30" y="487.00" font-size="6.8" text-anchor="middle">20</text>
<text x="199.00" y="496.60" font-size="6.8" text-anchor="end" textLength="34.20" lengthAdjust="spacingAndGlyphs">CRP [μg/ml]</text>
<text x="216.00" y="496.60" font-size="6.8" text-anchor="middle">1</text>
<text x="244.30" y="496.60" font-size="6.8" text-anchor="middle">1</text>
<text x="278.80" y="275.60" font-size="11" fill="#000" font-weight="bold" textLength="8.70" lengthAdjust="spacingAndGlyphs">G</text>
<rect x="325.50" y="293.90" width="11.60" height="59.90" fill="#b7002c"/>
<line x1="331.30" y1="291.30" x2="331.30" y2="294.90" stroke="#1a1a1a" stroke-width="1.2"/>
<line x1="329.70" y1="291.30" x2="332.90" y2="291.30" stroke="#1a1a1a" stroke-width="1.0"/>
<rect x="337.00" y="305.00" width="11.60" height="48.80" fill="#2c4f8c"/>
<line x1="342.80" y1="302.00" x2="342.80" y2="306.00" stroke="#1a1a1a" stroke-width="1.2"/>
<line x1="341.20" y1="302.00" x2="344.40" y2="302.00" stroke="#1a1a1a" stroke-width="1.0"/>
<rect x="353.80" y="295.80" width="11.60" height="58.00" fill="#b7002c"/>
<line x1="359.60" y1="293.80" x2="359.60" y2="296.80" stroke="#1a1a1a" stroke-width="1.2"/>
<line x1="358.00" y1="293.80" x2="361.20" y2="293.80" stroke="#1a1a1a" stroke-width="1.0"/>
<rect x="365.50" y="310.00" width="11.60" height="43.80" fill="#2c4f8c"/>
<line x1="371.30" y1="304.50" x2="371.30" y2="311.00" stroke="#1a1a1a" stroke-width="1.2"/>
<line x1="369.70" y1="304.50" x2="372.90" y2="304.50" stroke="#1a1a1a" stroke-width="1.0"/>
<line x1="319.80" y1="283.30" x2="319.80" y2="354.50" stroke="#1a1a1a" stroke-width="1.5"/>
<line x1="317.20" y1="353.80" x2="382.50" y2="353.80" stroke="#1a1a1a" stroke-width="1.5"/>
<line x1="317.40" y1="286.00" x2="319.80" y2="286.00" stroke="#1a1a1a" stroke-width="1.0"/>
<text x="314.20" y="288.30" font-size="6.6" text-anchor="end">300</text>
<line x1="317.40" y1="308.60" x2="319.80" y2="308.60" stroke="#1a1a1a" stroke-width="1.0"/>
<text x="314.20" y="310.90" font-size="6.6" text-anchor="end">200</text>
<line x1="317.40" y1="331.10" x2="319.80" y2="331.10" stroke="#1a1a1a" stroke-width="1.0"/>
<text x="314.20" y="333.40" font-size="6.6" text-anchor="end">100</text>
<line x1="317.40" y1="353.60" x2="319.80" y2="353.60" stroke="#1a1a1a" stroke-width="1.0"/>
<text x="314.20" y="355.90" font-size="6.6" text-anchor="end">0</text>
<path d="M341.20,298.55L341.20,301.05M342.28,299.18L340.12,300.43M342.28,300.43L340.12,299.18" stroke="#1a1a1a" stroke-width="0.75" fill="none"/>
<path d="M344.80,298.55L344.80,301.05M345.88,299.18L343.72,300.43M345.88,300.43L343.72,299.18" stroke="#1a1a1a" stroke-width="0.75" fill="none"/>
<path d="M369.50,299.75L369.50,302.25M370.58,300.38L368.42,301.62M370.58,301.62L368.42,300.38" stroke="#1a1a1a" stroke-width="0.75" fill="none"/>
<path d="M373.10,299.75L373.10,302.25M374.18,300.38L372.02,301.62M374.18,301.62L372.02,300.38" stroke="#1a1a1a" stroke-width="0.75" fill="none"/>
<line x1="337.10" y1="353.80" x2="337.10" y2="356.00" stroke="#1a1a1a" stroke-width="1.0"/>
<line x1="365.40" y1="353.80" x2="365.40" y2="356.00" stroke="#1a1a1a" stroke-width="1.0"/>
<g transform="translate(285.80,332.00) rotate(-90)">
<text x="0.00" y="0.00" font-size="7.6" fill="#222" textLength="27.60" lengthAdjust="spacingAndGlyphs">Activated</text>
</g>
<g transform="translate(295.60,349.40) rotate(-90)">
<text x="0.00" y="0.00" font-size="7.6" fill="#222" textLength="31.50" lengthAdjust="spacingAndGlyphs">Integrin α</text>
<text x="31.50" y="1.60" font-size="4.4" fill="#222" textLength="4.80" lengthAdjust="spacingAndGlyphs">IIb</text>
<text x="36.30" y="0.00" font-size="7.6" fill="#222" textLength="4.20" lengthAdjust="spacingAndGlyphs">β</text>
<text x="40.50" y="1.60" font-size="4.4" fill="#222" textLength="2.80" lengthAdjust="spacingAndGlyphs">3</text>
<text x="43.30" y="0.00" font-size="7.6" fill="#222" textLength="18.30" lengthAdjust="spacingAndGlyphs"> [MFI]</text>
</g>
<text x="320.00" y="365.40" font-size="6.8" text-anchor="end" font-style="italic" textLength="19.50" lengthAdjust="spacingAndGlyphs">Smpd1</text>
<text x="337.00" y="365.40" font-size="6.8" text-anchor="middle" textLength="12.90" lengthAdjust="spacingAndGlyphs">+ / +</text>
<text x="365.50" y="365.40" font-size="6.8" text-anchor="middle" textLength="10.00" lengthAdjust="spacingAndGlyphs">- / -</text>
<text x="320.00" y="374.90" font-size="6.8" text-anchor="end" textLength="27.50" lengthAdjust="spacingAndGlyphs">SPC [μM]</text>
<text x="337.00" y="374.90" font-size="6.8" text-anchor="middle">20</text>
<text x="365.50" y="374.90" font-size="6.8" text-anchor="middle">20</text>
<text x="320.00" y="384.40" font-size="6.8" text-anchor="end" textLength="35.00" lengthAdjust="spacingAndGlyphs">CRP [μg/ml]</text>
<text x="337.00" y="384.40" font-size="6.8" text-anchor="middle">1</text>
<text x="365.50" y="384.40" font-size="6.8" text-anchor="middle">1</text>
<rect x="325.50" y="410.00" width="11.60" height="55.90" fill="#b7002c"/>
<line x1="331.30" y1="408.80" x2="331.30" y2="411.00" stroke="#1a1a1a" stroke-width="1.2"/>
<line x1="329.70" y1="408.80" x2="332.90" y2="408.80" stroke="#1a1a1a" stroke-width="1.0"/>
<rect x="337.00" y="431.30" width="11.60" height="34.60" fill="#2c4f8c"/>
<line x1="342.80" y1="426.30" x2="342.80" y2="432.30" stroke="#1a1a1a" stroke-width="1.2"/>
<line x1="341.20" y1="426.30" x2="344.40" y2="426.30" stroke="#1a1a1a" stroke-width="1.0"/>
<rect x="353.80" y="410.00" width="11.60" height="55.90" fill="#b7002c"/>
<line x1="359.60" y1="408.80" x2="359.60" y2="411.00" stroke="#1a1a1a" stroke-width="1.2"/>
<line x1="358.00" y1="408.80" x2="361.20" y2="408.80" stroke="#1a1a1a" stroke-width="1.0"/>
<rect x="365.50" y="441.30" width="11.60" height="24.60" fill="#2c4f8c"/>
<line x1="371.30" y1="433.30" x2="371.30" y2="442.30" stroke="#1a1a1a" stroke-width="1.2"/>
<line x1="369.70" y1="433.30" x2="372.90" y2="433.30" stroke="#1a1a1a" stroke-width="1.0"/>
<line x1="319.80" y1="397.00" x2="319.80" y2="466.60" stroke="#1a1a1a" stroke-width="1.5"/>
<line x1="317.20" y1="465.90" x2="382.50" y2="465.90" stroke="#1a1a1a" stroke-width="1.5"/>
<line x1="317.40" y1="398.00" x2="319.80" y2="398.00" stroke="#1a1a1a" stroke-width="1.0"/>
<text x="314.20" y="400.30" font-size="6.6" text-anchor="end">100</text>
<line x1="317.40" y1="411.70" x2="319.80" y2="411.70" stroke="#1a1a1a" stroke-width="1.0"/>
<text x="314.20" y="414.00" font-size="6.6" text-anchor="end">80</text>
<line x1="317.40" y1="425.30" x2="319.80" y2="425.30" stroke="#1a1a1a" stroke-width="1.0"/>
<text x="314.20" y="427.60" font-size="6.6" text-anchor="end">60</text>
<line x1="317.40" y1="438.90" x2="319.80" y2="438.90" stroke="#1a1a1a" stroke-width="1.0"/>
<text x="314.20" y="441.20" font-size="6.6" text-anchor="end">40</text>
<line x1="317.40" y1="452.40" x2="319.80" y2="452.40" stroke="#1a1a1a" stroke-width="1.0"/>
<text x="314.20" y="454.70" font-size="6.6" text-anchor="end">20</text>
<line x1="317.40" y1="465.80" x2="319.80" y2="465.80" stroke="#1a1a1a" stroke-width="1.0"/>
<text x="314.20" y="468.10" font-size="6.6" text-anchor="end">0</text>
<path d="M341.20,423.15L341.20,425.65M342.28,423.77L340.12,425.02M342.28,425.02L340.12,423.77" stroke="#1a1a1a" stroke-width="0.75" fill="none"/>
<path d="M344.80,423.15L344.80,425.65M345.88,423.77L343.72,425.02M345.88,425.02L343.72,423.77" stroke="#1a1a1a" stroke-width="0.75" fill="none"/>
<path d="M369.50,429.55L369.50,432.05M370.58,430.18L368.42,431.43M370.58,431.43L368.42,430.18" stroke="#1a1a1a" stroke-width="0.75" fill="none"/>
<path d="M373.10,429.55L373.10,432.05M374.18,430.18L372.02,431.43M374.18,431.43L372.02,430.18" stroke="#1a1a1a" stroke-width="0.75" fill="none"/>
<line x1="337.10" y1="465.90" x2="337.10" y2="468.10" stroke="#1a1a1a" stroke-width="1.0"/>
<line x1="365.40" y1="465.90" x2="365.40" y2="468.10" stroke="#1a1a1a" stroke-width="1.0"/>
<g transform="translate(297.60,455.50) rotate(-90)">
<text x="0.00" y="0.00" font-size="8.0" fill="#222" textLength="47.50" lengthAdjust="spacingAndGlyphs">Aggregation [%]</text>
</g>
<text x="320.00" y="476.90" font-size="6.8" text-anchor="end" font-style="italic" textLength="19.50" lengthAdjust="spacingAndGlyphs">Smpd1</text>
<text x="337.00" y="476.90" font-size="6.8" text-anchor="middle" textLength="12.90" lengthAdjust="spacingAndGlyphs">+ / +</text>
<text x="365.50" y="476.90" font-size="6.8" text-anchor="middle" textLength="10.00" lengthAdjust="spacingAndGlyphs">- / -</text>
<text x="320.00" y="486.80" font-size="6.8" text-anchor="end" textLength="27.50" lengthAdjust="spacingAndGlyphs">SPC [μM]</text>
<text x="337.00" y="486.80" font-size="6.8" text-anchor="middle">20</text>
<text x="365.50" y="486.80" font-size="6.8" text-anchor="middle">20</text>
<text x="320.00" y="496.20" font-size="6.8" text-anchor="end" textLength="35.00" lengthAdjust="spacingAndGlyphs">CRP [μg/ml]</text>
<text x="337.00" y="496.20" font-size="6.8" text-anchor="middle">1</text>
<text x="365.50" y="496.20" font-size="6.8" text-anchor="middle">1</text>
<text x="400.60" y="275.80" font-size="11" fill="#000" font-weight="bold" textLength="7.80" lengthAdjust="spacingAndGlyphs">H</text>
<rect x="429.70" y="318.60" width="15.50" height="34.90" fill="#b7002c"/>
<line x1="437.45" y1="312.10" x2="437.45" y2="319.60" stroke="#1a1a1a" stroke-width="1.2"/>
<line x1="435.85" y1="312.10" x2="439.05" y2="312.10" stroke="#1a1a1a" stroke-width="1.0"/>
<rect x="445.20" y="339.90" width="15.50" height="13.60" fill="#2c4f8c"/>
<line x1="452.95" y1="337.60" x2="452.95" y2="340.90" stroke="#1a1a1a" stroke-width="1.2"/>
<line x1="451.35" y1="337.60" x2="454.55" y2="337.60" stroke="#1a1a1a" stroke-width="1.0"/>
<rect x="475.90" y="342.00" width="15.50" height="11.50" fill="#b7002c"/>
<line x1="483.65" y1="338.00" x2="483.65" y2="343.00" stroke="#1a1a1a" stroke-width="1.2"/>
<line x1="482.05" y1="338.00" x2="485.25" y2="338.00" stroke="#1a1a1a" stroke-width="1.0"/>
<rect x="491.40" y="343.30" width="15.50" height="10.20" fill="#2c4f8c"/>
<line x1="499.15" y1="341.20" x2="499.15" y2="344.30" stroke="#1a1a1a" stroke-width="1.2"/>
<line x1="497.55" y1="341.20" x2="500.75" y2="341.20" stroke="#1a1a1a" stroke-width="1.0"/>
<line x1="425.30" y1="296.30" x2="425.30" y2="354.20" stroke="#1a1a1a" stroke-width="1.5"/>
<line x1="422.70" y1="353.50" x2="512.20" y2="353.50" stroke="#1a1a1a" stroke-width="1.5"/>
<line x1="422.90" y1="299.10" x2="425.30" y2="299.10" stroke="#1a1a1a" stroke-width="1.0"/>
<text x="420.10" y="301.40" font-size="6.6" text-anchor="end">40</text>
<line x1="422.90" y1="312.60" x2="425.30" y2="312.60" stroke="#1a1a1a" stroke-width="1.0"/>
<text x="420.10" y="314.90" font-size="6.6" text-anchor="end">30</text>
<line x1="422.90" y1="326.40" x2="425.30" y2="326.40" stroke="#1a1a1a" stroke-width="1.0"/>
<text x="420.10" y="328.70" font-size="6.6" text-anchor="end">20</text>
<line x1="422.90" y1="339.90" x2="425.30" y2="339.90" stroke="#1a1a1a" stroke-width="1.0"/>
<text x="420.10" y="342.20" font-size="6.6" text-anchor="end">10</text>
<line x1="422.90" y1="353.20" x2="425.30" y2="353.20" stroke="#1a1a1a" stroke-width="1.0"/>
<text x="420.10" y="355.50" font-size="6.6" text-anchor="end">0</text>
<line x1="445.20" y1="353.50" x2="445.20" y2="355.70" stroke="#1a1a1a" stroke-width="1.0"/>
<line x1="491.40" y1="353.50" x2="491.40" y2="355.70" stroke="#1a1a1a" stroke-width="1.0"/>
<line x1="436.90" y1="302.50" x2="485.00" y2="302.50" stroke="#1a1a1a" stroke-width="1.1"/>
<path d="M458.50,298.05L458.50,300.55M459.58,298.68L457.42,299.93M459.58,299.93L457.42,298.68" stroke="#1a1a1a" stroke-width="0.75" fill="none"/>
<path d="M462.10,298.05L462.10,300.55M463.18,298.68L461.02,299.93M463.18,299.93L461.02,298.68" stroke="#1a1a1a" stroke-width="0.75" fill="none"/>
<line x1="436.90" y1="310.30" x2="453.30" y2="310.30" stroke="#1a1a1a" stroke-width="1.1"/>
<path d="M443.40,305.85L443.40,308.35M444.48,306.48L442.32,307.73M444.48,307.73L442.32,306.48" stroke="#1a1a1a" stroke-width="0.75" fill="none"/>
<path d="M447.00,305.85L447.00,308.35M448.08,306.48L445.92,307.73M448.08,307.73L445.92,306.48" stroke="#1a1a1a" stroke-width="0.75" fill="none"/>
<rect x="488.80" y="292.60" width="5.60" height="5.40" fill="#b7002c"/>
<text x="496.60" y="297.00" font-size="5.6" textLength="15.60" lengthAdjust="spacingAndGlyphs">vehicle</text>
<rect x="488.80" y="299.80" width="5.60" height="5.40" fill="#2c4f8c"/>
<text x="496.60" y="304.20" font-size="5.6" textLength="8.80" lengthAdjust="spacingAndGlyphs">SPC</text>
<g transform="translate(407.60,355.30) rotate(-90)">
<text x="0.00" y="0.00" font-size="8.0" fill="#222" textLength="61.00" lengthAdjust="spacingAndGlyphs">Surface coverage [%]</text>
</g>
<text x="425.60" y="365.00" font-size="6.8" text-anchor="end" font-style="italic" textLength="19.60" lengthAdjust="spacingAndGlyphs">Smpd1</text>
<text x="445.60" y="365.00" font-size="6.8" text-anchor="middle" textLength="12.90" lengthAdjust="spacingAndGlyphs">+ / +</text>
<text x="491.60" y="365.00" font-size="6.8" text-anchor="middle" textLength="10.00" lengthAdjust="spacingAndGlyphs">- / -</text>
<text x="425.60" y="374.00" font-size="6.8" text-anchor="end" textLength="25.40" lengthAdjust="spacingAndGlyphs">SPC [μM]</text>
<text x="445.60" y="374.00" font-size="6.8" text-anchor="middle">20</text>
<text x="491.60" y="374.00" font-size="6.8" text-anchor="middle">20</text>
<defs>
<filter id="nz1" x="0" y="0" width="100%" height="100%" color-interpolation-filters="sRGB">
<feTurbulence type="fractalNoise" baseFrequency="0.16 0.5" numOctaves="2" seed="4"/>
<feColorMatrix type="matrix" values="1 0 0 0 0 1 0 0 0 0 1 0 0 0 0 0 0 0 0 1"/>
<feComponentTransfer><feFuncR type="linear" slope="3.2" intercept="-1.1"/><feFuncG type="linear" slope="3.2" intercept="-1.1"/><feFuncB type="linear" slope="3.2" intercept="-1.1"/></feComponentTransfer>
</filter>
<filter id="nz2" x="0" y="0" width="100%" height="100%" color-interpolation-filters="sRGB">
<feTurbulence type="fractalNoise" baseFrequency="0.14 0.45" numOctaves="2" seed="11"/>
<feColorMatrix type="matrix" values="1 0 0 0 0 1 0 0 0 0 1 0 0 0 0 0 0 0 0 1"/>
<feComponentTransfer><feFuncR type="linear" slope="3.0" intercept="-1.0"/><feFuncG type="linear" slope="3.0" intercept="-1.0"/><feFuncB type="linear" slope="3.0" intercept="-1.0"/></feComponentTransfer>
</filter>
<filter id="bl1"><feGaussianBlur stdDeviation="1.1"/></filter>
</defs>
<svg x="424.40" y="383.60" width="43.00" height="43.00" viewBox="0 0 43.00 43.00">
<rect width="43.00" height="43.00" fill="#c2c2c2"/>
<path d="M0,4L43,16" stroke="#6a6a6a" stroke-width="5" opacity="0.55" filter="url(#bl1)" fill="none"/>
<path d="M0,20L43,36" stroke="#6a6a6a" stroke-width="5" opacity="0.55" filter="url(#bl1)" fill="none"/>
<path d="M0,34L30,44" stroke="#6a6a6a" stroke-width="5" opacity="0.5" filter="url(#bl1)" fill="none"/>
<path d="M0,13L43,27" stroke="#e0e0e0" stroke-width="3" opacity="0.5" filter="url(#bl1)" fill="none"/>
<g transform="rotate(18 21.5 21.5)"><rect x="-15" y="-15" width="73.0" height="73.0" filter="url(#nz1)" opacity="0.2"/></g>
<path d="M33.9,13.8l2.2,0.7M2.7,6.6l2.4,0.8M9.2,6.8l1.2,0.0M10.2,7.2l1.1,0.7M35.2,13.2l0.8,0.8M14.3,7.5l2.5,-0.3M35.4,12.6l1.5,1.1M24.5,12.4l2.1,0.7M6.5,5.2l2.0,0.2M33.9,11.6l1.6,0.4M1.4,-0.4l1.8,0.3M42.5,16.1l2.3,-0.1M34.0,13.4l1.2,1.1M9.0,4.3l1.4,0.4M22.6,8.7l1.5,0.7M10.7,8.9l1.2,0.7M6.5,5.7l1.3,0.3M19.7,11.4l1.5,0.5M5.3,4.0l1.2,-0.1M28.8,11.8l2.4,0.9M2.1,9.2l2.4,0.2M41.5,15.2l1.3,0.0M41.7,15.1l1.5,-0.0M8.6,4.8l1.0,0.6M22.0,8.3l1.8,1.6M9.3,6.7l2.3,-0.2M14.3,11.6l1.4,1.3M34.1,12.0l1.8,0.6M9.0,7.9l2.2,0.9M3.9,7.9l0.7,0.5M42.2,16.3l1.1,0.3M40.2,11.5l1.8,1.6M12.7,5.9l1.4,0.2M24.2,9.5l1.3,-0.1M27.6,13.4l1.3,0.2M14.3,4.7l1.3,0.2M26.3,11.2l1.2,0.4M23.9,10.9l1.9,0.3M38.1,35.0l1.8,1.3M41.3,37.9l2.3,1.1M21.6,29.5l2.3,0.6M30.9,31.5l1.5,0.3M30.5,30.2l0.6,0.7M23.0,29.8l1.5,0.2M11.9,24.5l1.5,0.4M5.9,23.2l2.0,1.1M18.7,25.9l1.2,-0.0M20.7,29.5l1.2,1.3M7.0,18.8l1.3,0.2M3.0,19.6l1.4,-0.0M7.1,22.1l2.3,1.2M41.9,37.0l1.3,0.7M32.6,33.2l1.5,0.6M26.1,27.9l1.1,0.3M41.2,35.0l2.2,0.9M24.4,28.1l2.2,1.3M13.9,23.3l1.6,0.6M18.5,27.6l1.4,0.6M27.0,29.5l0.7,0.4M17.5,26.4l1.3,-0.5M26.1,29.6l0.8,0.1M34.6,32.0l1.2,0.3M5.4,23.5l1.6,0.2M21.9,26.3l1.4,0.5M9.3,27.0l0.9,0.9M30.9,30.1l1.8,0.7M30.5,30.9l2.4,0.5M32.4,32.4l1.9,0.4M40.6,37.0l2.1,0.4M10.2,21.0l1.1,0.7M10.2,24.1l1.7,1.4M35.8,35.4l0.8,0.6M21.0,28.7l1.1,0.6M30.9,44.8l2.3,0.5M28.1,40.5l1.8,1.3M27.7,43.2l1.7,1.0M14.1,40.5l0.9,-0.1M22.4,40.2l2.0,-0.2M19.8,39.9l0.8,0.9M11.0,35.9l1.7,0.2M14.2,35.5l0.6,0.7M13.7,39.6l1.9,0.7M2.6,35.1l0.8,0.2M21.9,42.1l2.0,1.1M11.6,38.3l1.1,0.8M24.9,43.2l1.4,0.3M17.2,42.6l1.8,0.9M8.6,38.1l2.1,0.0M23.2,39.3l1.1,0.9M13.6,40.6l1.1,0.3M19.4,39.5l1.1,-0.0M3.5,33.8l1.0,0.3M18.7,40.2l0.8,0.5M42.9,26.8l2.0,0.7M16.6,19.2l1.9,0.0M36.2,24.1l1.3,0.4M13.0,17.7l2.5,0.1M23.9,19.5l1.5,1.0M25.7,20.5l1.5,0.8M24.0,19.6l1.5,1.3M41.9,37.9l1.5,0.0M38.0,36.4l1.4,0.7M29.3,33.7l1.0,0.4M36.4,37.7l2.2,1.3M24.4,27.9l1.8,-0.2M40.2,36.8l0.9,0.2M33.2,35.6l2.2,0.9M28.7,30.3l1.6,0.8M39.8,39.4l2.0,0.7M24.7,32.0l1.9,0.8" stroke="#5a5a5a" stroke-width="1.1" fill="none"/>
<path d="M6.4,3.1l1.3,-0.0M33.4,13.2l2.0,0.7M22.8,9.5l1.6,0.4M1.0,4.8l2.4,-0.4M25.2,13.1l2.2,-0.2M11.5,4.8l0.9,0.3M0.1,6.0l0.9,0.6M27.2,9.9l1.2,0.6M38.9,15.3l2.5,0.3M7.8,11.1l2.2,0.4M36.4,15.6l2.4,0.4M21.3,9.7l1.9,0.8M23.3,11.0l0.9,0.3M39.3,15.5l2.1,0.6M10.6,7.2l1.9,0.6M40.8,14.1l0.9,0.3M13.2,8.4l1.1,0.7M39.7,34.9l2.1,1.2M16.9,25.6l0.8,0.1M27.1,31.0l1.6,0.6M29.1,31.0l2.3,0.1M40.9,34.9l1.1,0.5M38.5,35.6l2.1,0.7M28.2,28.7l2.0,1.4M18.5,27.7l0.9,0.5M25.9,29.4l1.6,1.5M11.4,27.1l0.8,0.6M26.6,27.3l1.4,1.0M37.4,31.3l2.4,0.4M21.2,25.3l1.9,0.4M26.8,33.0l2.3,0.4M40.6,34.5l2.0,0.2M16.3,23.0l1.0,0.4M34.7,33.7l1.2,0.2M5.7,24.1l1.1,0.9M4.7,21.8l1.7,0.8M8.5,23.0l1.9,0.3M25.7,42.7l0.9,0.4M10.3,38.1l2.4,-0.0M22.7,41.0l1.2,-0.1M5.6,34.0l2.1,1.0M24.3,41.3l1.0,0.2M21.0,42.5l1.8,-0.0M27.4,42.5l0.8,0.5M15.6,36.9l2.2,1.3M22.8,43.3l1.6,1.0M25.2,44.1l2.2,0.8M12.8,14.9l2.0,1.2M23.0,21.6l2.1,0.3M15.8,14.9l1.9,1.5M29.2,33.8l1.6,0.7M35.6,37.8l1.6,0.6M22.5,31.6l2.5,0.3M30.8,32.4l1.0,0.2M24.3,31.1l1.3,1.0M30.4,33.4l1.7,-0.0M37.6,38.8l0.6,0.6M42.3,39.5l1.2,1.1M33.9,33.1l1.8,0.1M32.3,33.8l0.8,0.8" stroke="#e4e4e4" stroke-width="0.9" fill="none"/>
</svg>
<text x="459.00" y="419.80" font-size="6.0" text-anchor="middle" fill="#111" textLength="14.60" lengthAdjust="spacingAndGlyphs">20 μm</text>
<line x1="451.80" y1="421.70" x2="465.80" y2="421.70" stroke="#111" stroke-width="1.5"/>
<svg x="469.30" y="383.60" width="42.90" height="43.00" viewBox="0 0 42.90 43.00">
<rect width="42.90" height="43.00" fill="#d6d6d6"/>
<path d="M0,37L28,39" stroke="#8a8a8a" stroke-width="4" opacity="0.5" filter="url(#bl1)" fill="none"/>
<path d="M2,8L40,8" stroke="#9a9a9a" stroke-width="5" opacity="0.35" filter="url(#bl1)" fill="none"/>
<g transform="rotate(0 21.4 21.5)"><rect x="-15" y="-15" width="72.9" height="73.0" filter="url(#nz2)" opacity="0.12"/></g>
<path d="M7.8,35.6l1.8,-0.2M11.3,38.5l2.4,1.0M7.3,37.1l1.6,0.2M11.2,36.2l1.8,0.2M4.0,32.0l2.0,0.1M25.3,36.8l2.4,0.3M12.2,37.1l2.3,-0.9M13.3,37.3l1.9,0.1M25.8,40.6l0.9,-0.0M24.1,39.8l2.2,0.7M6.4,35.8l2.0,0.7M2.3,9.7l1.0,0.4M3.5,7.3l0.9,0.2M4.4,4.7l1.7,0.1M17.3,11.6l1.4,0.7M11.5,7.0l2.5,0.6M12.1,5.2l2.1,-0.3M31.5,9.8l1.2,0.1M39.5,7.4l1.8,0.2M33.5,8.9l1.0,0.1M40.4,8.0l2.5,-0.3M28.2,8.4l1.3,0.3M33.6,7.5l1.2,0.2M21.5,24.2l2.1,1.3M33.0,22.6l2.0,0.7M19.4,20.2l2.1,-0.4M37.6,28.7l1.3,-0.0" stroke="#5a5a5a" stroke-width="1.1" fill="none"/>
<path d="M27.0,38.7l0.9,0.3M26.4,39.6l2.2,0.2M24.7,39.7l1.8,-0.1M19.8,38.2l1.4,0.1M7.2,37.7l2.5,-0.0M26.5,38.5l2.3,0.1M19.0,40.6l0.8,0.3M11.8,6.9l1.3,0.6M14.0,11.0l2.3,-0.1M9.7,10.3l1.3,0.5M3.0,7.3l0.9,0.2M33.9,9.0l0.9,-0.1M34.8,9.3l1.9,0.2M22.9,23.1l2.3,-0.5M26.8,24.4l1.3,-0.1" stroke="#e4e4e4" stroke-width="0.9" fill="none"/>
</svg>
<text x="503.80" y="419.80" font-size="6.0" text-anchor="middle" fill="#111" textLength="14.60" lengthAdjust="spacingAndGlyphs">20 μm</text>
<line x1="496.60" y1="421.70" x2="510.60" y2="421.70" stroke="#111" stroke-width="1.5"/>
<svg x="424.40" y="429.00" width="43.00" height="43.20" viewBox="0 0 43.00 43.20">
<rect width="43.00" height="43.20" fill="#d0d0d0"/>
<path d="M0,9L43,13" stroke="#7a7a7a" stroke-width="4" opacity="0.5" filter="url(#bl1)" fill="none"/>
<path d="M2,22L40,25" stroke="#6e6e6e" stroke-width="4" opacity="0.55" filter="url(#bl1)" fill="none"/>
<path d="M5,38L30,40" stroke="#8a8a8a" stroke-width="4" opacity="0.4" filter="url(#bl1)" fill="none"/>
<g transform="rotate(3 21.5 21.6)"><rect x="-15" y="-15" width="73.0" height="73.2" filter="url(#nz2)" opacity="0.14"/></g>
<path d="M9.7,9.5l1.9,0.1M35.9,12.3l2.5,0.7M35.1,12.7l1.0,-0.3M31.0,11.7l2.2,0.0M12.8,8.6l1.4,0.1M5.6,12.3l2.2,-1.0M42.8,15.4l1.5,0.5M38.1,13.8l1.7,-0.2M9.7,14.1l1.7,0.1M24.9,13.5l1.9,0.3M26.1,12.0l1.4,-0.0M1.7,7.4l1.1,-0.6M25.2,12.7l1.4,-0.2M5.0,8.8l2.2,0.7M37.1,13.7l1.9,0.6M7.7,12.6l1.9,0.3M12.0,10.5l1.4,-0.1M39.5,21.8l2.3,0.8M30.8,22.5l1.7,0.0M5.1,21.2l2.3,-0.1M35.9,21.7l2.3,0.8M29.9,24.8l1.9,0.5M18.5,22.5l1.4,0.1M34.7,25.6l1.3,0.2M17.0,23.7l0.8,0.2M4.7,24.9l1.0,0.0M13.8,24.1l1.9,-0.2M14.2,24.3l2.0,0.6M17.8,21.8l1.2,-0.4M17.9,20.7l2.4,0.8M36.5,25.2l2.0,-0.6M5.9,22.2l1.1,0.1M3.1,22.3l2.0,-0.5M30.7,24.0l1.3,-0.5M8.4,22.5l2.0,0.9M26.9,23.8l1.9,0.4M19.6,40.0l0.8,-0.1M16.4,37.3l2.2,0.6M7.7,40.1l1.2,0.5M19.5,38.6l1.4,-0.2M19.9,40.5l1.8,0.1" stroke="#5a5a5a" stroke-width="1.1" fill="none"/>
<path d="M14.1,10.8l1.7,-0.0M38.4,10.4l1.5,0.6M38.1,13.0l1.1,0.4M25.9,10.0l2.1,1.3M31.0,14.8l1.8,0.1M12.8,6.9l0.9,0.0M14.1,13.6l1.6,-0.6M14.0,11.2l0.8,0.1M7.3,12.7l1.3,0.3M26.0,13.3l1.6,-0.0M16.8,10.6l1.8,0.1M13.5,13.1l1.2,0.2M4.8,8.5l2.2,0.1M16.8,25.0l0.8,0.7M32.9,23.8l1.7,0.4M8.9,19.5l2.2,0.2M5.3,23.5l1.9,0.2M25.1,22.6l1.7,0.3M36.2,23.6l1.5,0.6M5.6,22.9l0.8,-0.0M7.1,20.6l2.1,0.9M15.5,23.9l1.5,0.5M18.0,23.2l2.0,-0.1M30.2,25.7l1.6,-0.1M9.0,23.5l1.9,0.0M38.6,24.2l1.4,0.7M14.1,36.7l0.9,0.5M22.3,40.3l2.1,-0.2M16.7,39.7l2.1,-0.3M9.7,38.2l1.1,0.3M26.8,38.8l2.4,0.0M11.7,37.1l2.3,0.5M14.2,38.5l1.3,-0.4" stroke="#e4e4e4" stroke-width="0.9" fill="none"/>
</svg>
<text x="459.00" y="465.40" font-size="6.0" text-anchor="middle" fill="#111" textLength="14.60" lengthAdjust="spacingAndGlyphs">20 μm</text>
<line x1="451.80" y1="467.30" x2="465.80" y2="467.30" stroke="#111" stroke-width="1.5"/>
<svg x="469.30" y="429.00" width="42.90" height="43.20" viewBox="0 0 42.90 43.20">
<rect width="42.90" height="43.20" fill="#d6d6d6"/>
<path d="M4,9L42,16" stroke="#8a8a8a" stroke-width="4" opacity="0.4" filter="url(#bl1)" fill="none"/>
<path d="M0,20L43,20" stroke="#808080" stroke-width="1.2" opacity="0.5" filter="url(#bl1)" fill="none"/>
<path d="M0,39L30,40" stroke="#8a8a8a" stroke-width="4" opacity="0.45" filter="url(#bl1)" fill="none"/>
<g transform="rotate(0 21.4 21.6)"><rect x="-15" y="-15" width="72.9" height="73.2" filter="url(#nz2)" opacity="0.12"/></g>
<path d="M34.7,14.7l1.8,0.0M38.1,16.3l2.0,0.1M7.4,12.6l1.8,-0.0M37.4,13.9l2.3,-0.2M20.3,12.7l2.1,0.8M11.5,9.4l1.9,0.5M17.5,10.1l1.7,0.5M12.5,10.8l1.2,-0.2M20.4,11.1l2.3,0.3M9.6,6.9l1.1,0.8M20.4,12.1l0.9,0.2M29.8,14.1l1.7,0.3M26.2,12.9l2.6,-0.2M24.2,13.7l1.2,0.3M15.2,39.4l2.1,1.2M18.9,39.8l2.2,-0.6M28.8,39.7l2.4,0.0M27.2,39.9l2.5,0.2M17.9,39.9l2.1,0.5M9.2,38.8l2.4,0.9M12.8,38.2l2.4,0.3M10.5,36.2l2.1,-0.2M31.1,2.1l2.1,-0.0M35.7,2.3l2.2,-1.1M38.7,3.1l1.5,-0.4M30.3,2.6l1.8,-0.1" stroke="#5a5a5a" stroke-width="1.1" fill="none"/>
<path d="M13.5,11.6l1.0,0.4M10.9,10.9l2.3,1.0M10.4,9.5l1.8,1.0M5.4,8.4l1.8,-0.1M10.6,10.4l1.6,1.3M39.6,17.0l2.5,0.5M6.2,11.8l1.4,0.2M13.1,10.9l1.5,0.3M7.2,38.0l0.8,0.3M11.8,40.2l2.2,-0.3M19.5,38.4l2.4,0.4M29.0,39.6l1.1,-0.2M27.1,41.2l2.1,0.6M5.5,37.9l2.4,-0.3M14.0,38.9l0.8,-0.1M0.9,36.1l0.9,-0.2M2.5,36.5l1.6,-0.6M2.5,38.7l1.3,-0.1M38.2,2.2l2.4,1.0M36.7,3.4l1.0,0.2" stroke="#e4e4e4" stroke-width="0.9" fill="none"/>
</svg>
<text x="503.80" y="465.40" font-size="6.0" text-anchor="middle" fill="#111" textLength="14.60" lengthAdjust="spacingAndGlyphs">20 μm</text>
<line x1="496.60" y1="467.30" x2="510.60" y2="467.30" stroke="#111" stroke-width="1.5"/>
<g transform="translate(419.60,422.40) rotate(-90)">
<text x="0.00" y="0.00" font-size="6.4" fill="#222" font-style="italic" textLength="17.60" lengthAdjust="spacingAndGlyphs">Smpd1</text>
<text x="17.60" y="-2.40" font-size="3.8" fill="#222" textLength="4.80" lengthAdjust="spacingAndGlyphs">+/+</text>
</g>
<g transform="translate(419.60,462.40) rotate(-90)">
<text x="0.00" y="0.00" font-size="6.4" fill="#222" font-style="italic" textLength="17.60" lengthAdjust="spacingAndGlyphs">Smpd1</text>
<text x="17.60" y="-2.40" font-size="3.8" fill="#222" textLength="4.80" lengthAdjust="spacingAndGlyphs">-/-</text>
</g>
<text x="445.90" y="480.60" font-size="6.8" text-anchor="middle" textLength="20.10" lengthAdjust="spacingAndGlyphs">vehicle</text>
<text x="490.40" y="480.60" font-size="6.8" text-anchor="middle" textLength="34.30" lengthAdjust="spacingAndGlyphs">SPC [20μM]</text>
<rect x="0.6" y="0.55" width="518.3" height="503.3" fill="none" stroke="#000" stroke-width="1.3"/>
<line x1="519.00" y1="0.00" x2="519.00" y2="505.00" stroke="#000" stroke-width="2.0"/>
<line x1="0.00" y1="504.40" x2="520.00" y2="504.40" stroke="#000" stroke-width="1.0"/>
</svg>
</body></html>
